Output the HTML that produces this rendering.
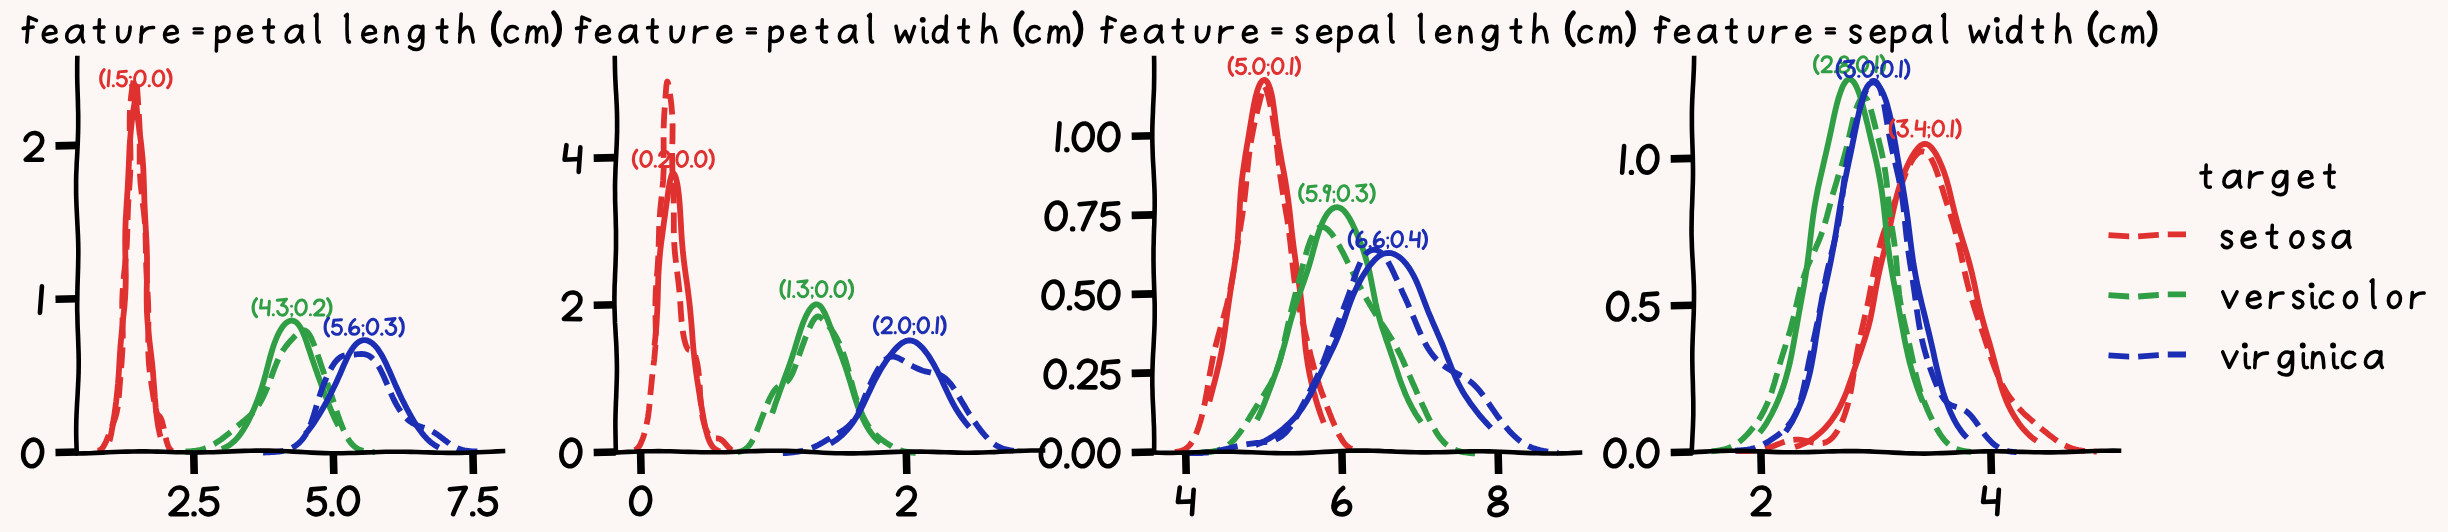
<!DOCTYPE html>
<html><head><meta charset="utf-8"><title>iris</title>
<style>html,body{margin:0;padding:0;background:#fcf6f4;overflow:hidden;font-family:"Liberation Sans",sans-serif}svg{display:block}</style>
</head><body>
<svg width="2448" height="532" viewBox="0 0 2448 532" role="img" aria-label="Iris feature distributions by target">
<desc>feature = petal length (cm); feature = petal width (cm); feature = sepal length (cm); feature = sepal width (cm); target: setosa, versicolor, virginica</desc>
<rect width="2448" height="532" fill="#fcf6f4"/>
<g fill="none" stroke-linecap="butt" stroke-linejoin="round">
<path d="M109.4,441.2 L109.9,439.7 L110.3,438.0 L110.7,436.1 L111.2,433.9 L111.6,431.5 L112.1,428.9 L112.6,425.9 L113.1,422.7 L113.7,419.1 L114.3,415.2 L114.9,411.0 L115.5,406.3 L116.2,401.3 L116.8,395.9 L117.4,390.0 L118.0,383.8 L118.5,377.0 L119.0,369.9 L119.4,362.3 L119.9,354.2 L120.5,345.8 L121.3,336.9 L122.2,327.6 L123.2,318.0 L124.3,308.0 L125.1,297.6 L125.6,287.0 L125.8,276.1 L125.6,264.9 L125.3,253.7 L125.2,242.3 L125.3,230.9 L125.7,219.5 L126.4,208.2 L127.1,197.0 L127.8,186.1 L128.3,175.5 L128.8,165.2 L129.2,155.3 L129.6,146.0 L130.3,137.2 L131.0,129.1 L131.8,121.7 L132.6,115.0 L133.5,109.1 L134.3,104.1 L135.0,100.1 L135.6,96.9 L136.2,94.8 L136.5,93.9 L135.3,94.2 L134.9,94.1 L135.3,95.5 L135.6,98.0 L136.0,101.5 L136.5,105.9 L137.0,111.3 L137.7,117.4 L138.6,124.3 L139.6,132.0 L140.7,140.4 L141.7,149.3 L142.6,158.8 L143.3,168.8 L143.7,179.2 L144.1,190.0 L144.4,201.0 L144.9,212.2 L145.5,223.6 L146.1,235.0 L146.7,246.4 L147.0,257.7 L147.0,268.9 L146.9,280.0 L146.7,290.8 L146.7,301.4 L146.9,311.6 L147.5,321.5 L148.4,331.1 L149.4,340.2 L150.4,348.9 L151.4,357.2 L152.3,365.0 L153.0,372.5 L153.5,379.5 L154.0,386.0 L154.5,392.2 L154.9,397.9 L155.4,403.2 L155.8,408.1 L156.3,412.6 L156.8,416.8 L157.3,420.5 L157.8,424.0 L158.3,427.1 L158.9,430.0 L159.4,432.5 L159.9,434.8 L160.5,436.9" stroke="#e03131" stroke-width="5.8"/>
<path d="M97.3,450.7 L97.6,450.7 L98.0,450.7 L98.3,450.6 L98.6,450.6 L99.0,450.5 L99.3,450.4 L99.6,450.3 L100.0,450.1 L100.3,449.9 L100.7,449.7 L101.0,449.4 L101.4,449.1 L101.8,448.7 L102.2,448.3 L102.6,447.7 L103.0,447.2 L103.4,446.5 L103.9,445.8 L104.3,445.0 L104.8,444.1 L105.2,443.2 L105.7,442.2 L106.2,441.2 L106.6,440.1 L107.1,439.0 L107.6,437.8 L108.0,436.6 L108.5,435.5 L108.9,434.3 L109.4,433.1 L109.8,431.9 L110.3,430.8 L110.7,429.7 L111.2,428.6 L111.6,427.5 L112.0,426.4 L112.4,425.4 L112.8,424.4 L113.2,423.4 L113.6,422.3 L114.0,421.3 L114.4,420.2 L114.8,419.1 L115.2,417.9 L115.6,416.6 L116.0,415.2 L116.4,413.7 L116.8,412.0 L117.1,410.2 L117.5,408.2 L117.8,406.1 L118.1,403.6 L118.4,401.0 L118.7,398.1 L119.0,394.8 L119.3,391.3 L119.6,387.5 L119.9,383.3 L120.3,378.7 L120.7,373.8 L121.1,368.5 L121.6,362.8 L122.0,356.6 L122.4,350.1 L122.7,343.2 L122.8,335.8 L122.7,328.1 L122.5,320.0 L122.3,311.5 L122.2,302.7 L122.5,293.7 L123.1,284.3 L124.0,274.7 L125.1,264.9 L126.0,254.9 L126.8,244.7 L127.2,234.5 L127.5,224.2 L127.8,213.8 L128.2,203.5 L128.9,193.3 L129.6,183.2 L130.2,173.3 L130.5,163.6 L130.5,154.2 L130.3,145.2 L130.0,136.5 L129.7,128.3 L129.7,120.6 L129.8,113.4 L130.2,106.9 L130.7,101.0 L131.2,95.7 L131.8,91.1 L132.3,87.3 L132.9,84.2 L133.3,81.8 L133.8,80.1 L134.4,79.0 L135.7,78.9 L136.2,79.9 L136.5,81.5 L136.8,83.8 L137.1,86.7 L137.3,90.4 L137.6,94.7 L137.9,99.7 L138.3,105.3 L138.7,111.4 L139.1,118.1 L139.5,125.3 L139.7,132.8 L139.8,140.8 L139.7,149.0 L139.7,157.5 L139.7,166.2 L140.0,175.1 L140.6,184.0 L141.6,192.9 L142.6,201.9 L143.7,210.8 L144.6,219.7 L145.3,228.5 L145.6,237.2 L145.8,245.8 L145.9,254.3 L146.1,262.7 L146.4,270.9 L146.8,279.0 L147.2,286.9 L147.7,294.8 L148.1,302.4 L148.3,310.0 L148.4,317.5 L148.4,324.8 L148.3,331.9 L148.2,338.9 L148.2,345.7 L148.3,352.3 L148.6,358.6 L149.0,364.7 L149.6,370.5 L150.3,376.0 L151.0,381.2 L151.7,386.0 L152.4,390.5 L153.0,394.5 L153.6,398.2 L154.2,401.4 L154.7,404.2 L155.1,406.7 L155.6,408.7 L156.0,410.4 L156.4,411.8 L156.8,412.9 L157.1,413.7 L157.5,414.3 L157.8,414.8 L158.1,415.1 L158.5,415.4 L158.9,415.7 L159.3,416.1 L159.7,416.6 L160.1,417.1 L160.5,417.8 L160.9,418.5 L161.3,419.5 L161.7,420.5 L162.1,421.7 L162.5,423.0 L162.8,424.4 L163.2,425.9 L163.6,427.6 L163.9,429.2 L164.3,430.9 L164.6,432.6 L165.0,434.3 L165.3,436.0 L165.7,437.6 L166.1,439.1 L166.4,440.6 L166.8,441.9 L167.2,443.2 L167.6,444.3 L167.9,445.4 L168.3,446.3 L168.7,447.1 L169.1,447.8 L169.4,448.5 L169.8,449.0 L170.1,449.4 L170.5,449.8 L170.8,450.1 L171.2,450.4 L171.5,450.6 L171.9,450.7 L172.2,450.9 L172.6,451.0 L172.9,451.1" stroke="#e03131" stroke-width="5.8" stroke-dasharray="20.7 9"/>
<path d="M221.8,449.0 L223.0,448.5 L224.2,448.0 L225.4,447.5 L226.6,446.8 L227.8,446.1 L229.0,445.4 L230.2,444.5 L231.4,443.6 L232.6,442.6 L233.8,441.6 L235.0,440.4 L236.2,439.2 L237.4,437.8 L238.6,436.4 L239.8,434.8 L241.0,433.2 L242.2,431.4 L243.4,429.6 L244.6,427.6 L245.8,425.5 L247.0,423.3 L248.3,421.0 L249.5,418.6 L250.7,416.0 L252.0,413.3 L253.2,410.6 L254.5,407.7 L255.7,404.7 L256.9,401.6 L258.1,398.4 L259.3,395.1 L260.4,391.8 L261.6,388.3 L262.6,384.8 L263.7,381.2 L264.7,377.6 L265.7,374.0 L266.6,370.4 L267.6,366.7 L268.5,363.1 L269.4,359.6 L270.4,356.1 L271.4,352.6 L272.4,349.3 L273.4,346.1 L274.5,343.0 L275.7,340.0 L276.8,337.2 L278.0,334.6 L279.2,332.2 L280.5,330.0 L281.7,328.0 L283.0,326.2 L284.4,324.6 L285.7,323.3 L287.1,322.2 L288.5,321.4 L289.9,320.8 L291.4,320.6 L292.8,320.7 L294.2,321.1 L295.6,321.9 L296.8,322.8 L298.0,324.1 L299.1,325.5 L300.2,327.2 L301.3,329.1 L302.3,331.2 L303.3,333.5 L304.4,336.0 L305.4,338.7 L306.4,341.5 L307.4,344.5 L308.4,347.6 L309.5,350.8 L310.6,354.1 L311.7,357.5 L312.9,360.9 L314.1,364.4 L315.3,367.9 L316.6,371.4 L317.8,375.0 L319.1,378.5 L320.4,382.0 L321.6,385.5 L322.9,388.9 L324.2,392.3 L325.4,395.6 L326.6,398.9 L327.8,402.0 L329.0,405.1 L330.2,408.1 L331.4,411.0 L332.6,413.7 L333.8,416.4 L334.9,418.9 L336.1,421.4 L337.3,423.7 L338.5,425.9" stroke="#2f9e44" stroke-width="5.8"/>
<path d="M185.6,451.6 L186.6,451.5 L187.5,451.5 L188.5,451.4 L189.4,451.4 L190.4,451.3 L191.3,451.2 L192.2,451.1 L193.2,451.0 L194.1,450.9 L195.1,450.8 L196.0,450.7 L196.9,450.5 L197.9,450.4 L198.8,450.2 L199.7,450.0 L200.7,449.8 L201.6,449.5 L202.5,449.3 L203.4,449.0 L204.3,448.7 L205.3,448.3 L206.2,448.0 L207.1,447.6 L208.0,447.2 L208.9,446.8 L209.8,446.4 L210.7,445.9 L211.6,445.4 L212.6,444.9 L213.5,444.4 L214.4,443.9 L215.3,443.3 L216.2,442.7 L217.1,442.1 L218.1,441.5 L219.0,440.9 L219.9,440.3 L220.8,439.7 L221.8,439.0 L222.7,438.3 L223.6,437.6 L224.5,436.9 L225.5,436.2 L226.4,435.4 L227.4,434.7 L228.3,433.9 L229.3,433.1 L230.2,432.3 L231.2,431.5 L232.1,430.7 L233.1,429.9 L234.1,429.0 L235.1,428.2 L236.1,427.3 L237.0,426.5 L238.0,425.7 L239.0,424.8 L240.0,424.0 L241.0,423.2 L242.0,422.3 L243.0,421.5 L244.0,420.7 L245.0,419.9 L246.0,419.0 L247.0,418.2 L248.0,417.3 L249.0,416.4 L250.1,415.5 L251.1,414.5 L252.1,413.5 L253.1,412.4 L254.2,411.2 L255.2,409.9 L256.2,408.6 L257.3,407.1 L258.3,405.5 L259.4,403.9 L260.4,402.1 L261.5,400.2 L262.5,398.2 L263.6,396.1 L264.6,393.9 L265.6,391.6 L266.6,389.2 L267.6,386.8 L268.6,384.3 L269.5,381.8 L270.5,379.2 L271.4,376.7 L272.3,374.2 L273.2,371.7 L274.1,369.3 L275.0,367.0 L275.9,364.7 L276.8,362.5 L277.7,360.5 L278.6,358.5 L279.5,356.6 L280.4,354.9 L281.3,353.2 L282.2,351.7 L283.1,350.2 L284.1,348.9 L285.0,347.6 L285.9,346.3 L286.9,345.2 L287.8,344.0 L288.7,342.9 L289.7,341.8 L290.6,340.8 L291.6,339.7 L292.6,338.7 L293.5,337.6 L294.5,336.6 L295.4,335.6 L296.4,334.7 L297.3,333.8 L298.3,333.0 L299.2,332.2 L300.1,331.6 L301.0,331.1 L301.9,330.7 L302.8,330.4 L303.6,330.3 L304.4,330.4 L305.2,330.6 L306.0,331.0 L306.8,331.7 L307.7,332.5 L308.6,333.6 L309.5,334.9 L310.4,336.5 L311.3,338.2 L312.2,340.3 L313.1,342.5 L314.1,344.9 L315.1,347.5 L316.0,350.2 L317.1,353.1 L318.1,356.1 L319.2,359.3 L320.3,362.5 L321.4,365.8 L322.5,369.1 L323.7,372.5 L324.8,375.9 L326.0,379.3 L327.2,382.7 L328.3,386.1 L329.5,389.4 L330.6,392.7 L331.7,396.0 L332.7,399.1 L333.7,402.2 L334.7,405.3 L335.7,408.2 L336.6,411.1 L337.5,413.8 L338.4,416.5 L339.3,419.0 L340.2,421.5 L341.1,423.8 L341.9,426.1 L342.8,428.2 L343.6,430.2 L344.5,432.1 L345.3,433.9 L346.2,435.6 L347.0,437.2 L347.9,438.6 L348.8,440.0 L349.7,441.3 L350.5,442.5 L351.4,443.5 L352.3,444.5 L353.2,445.4 L354.1,446.2 L355.1,447.0 L356.0,447.7 L356.9,448.3 L357.8,448.8 L358.8,449.3 L359.7,449.7 L360.6,450.1 L361.6,450.4 L362.5,450.7 L363.5,450.9 L364.4,451.1 L365.4,451.3 L366.3,451.5 L367.3,451.6 L368.2,451.7 L369.2,451.8 L370.1,451.9 L371.1,451.9 L372.0,452.0 L373.0,452.0 L373.9,452.1 L374.9,452.1" stroke="#2f9e44" stroke-width="5.8" stroke-dasharray="20.7 9"/>
<path d="M305.3,434.0 L306.7,432.4 L308.1,430.8 L309.4,429.0 L310.8,427.2 L312.2,425.3 L313.6,423.3 L315.0,421.2 L316.4,419.0 L317.8,416.8 L319.3,414.4 L320.7,412.0 L322.2,409.5 L323.7,406.9 L325.2,404.3 L326.7,401.6 L328.1,398.8 L329.6,396.0 L331.1,393.1 L332.5,390.2 L333.9,387.3 L335.3,384.4 L336.7,381.4 L338.0,378.5 L339.3,375.6 L340.6,372.7 L341.8,369.8 L343.0,367.0 L344.2,364.3 L345.4,361.7 L346.6,359.1 L347.7,356.7 L348.9,354.4 L350.1,352.2 L351.3,350.2 L352.6,348.3 L353.8,346.6 L355.1,345.1 L356.4,343.8 L357.8,342.6 L359.1,341.7 L360.6,340.9 L362.0,340.4 L363.5,340.2 L365.0,340.1 L366.6,340.3 L368.1,340.8 L369.6,341.5 L371.1,342.4 L372.6,343.5 L374.0,344.8 L375.5,346.3 L376.9,347.9 L378.3,349.8 L379.6,351.8 L381.0,354.0 L382.3,356.3 L383.6,358.7 L384.9,361.3 L386.2,363.9 L387.4,366.7 L388.7,369.5 L390.0,372.3 L391.2,375.2 L392.5,378.2 L393.8,381.2 L395.1,384.1 L396.4,387.1 L397.8,390.1 L399.1,393.0 L400.5,395.9 L401.8,398.7 L403.2,401.5 L404.6,404.2 L405.9,406.9 L407.3,409.5 L408.7,412.0 L410.0,414.5 L411.4,416.9 L412.7,419.2 L414.0,421.4 L415.3,423.5 L416.6,425.5 L417.9,427.5 L419.2,429.3 L420.5,431.1 L421.8,432.8 L423.1,434.4 L424.3,435.9 L425.6,437.3 L426.9,438.7 L428.2,440.0 L429.5,441.2 L430.8,442.3 L432.2,443.3 L433.5,444.3 L434.8,445.2 L436.2,446.0 L437.5,446.8 L438.9,447.5" stroke="#1c2fb4" stroke-width="5.8"/>
<path d="M263.1,452.5 L264.2,452.5 L265.3,452.4 L266.4,452.4 L267.5,452.3 L268.6,452.3 L269.7,452.3 L270.8,452.2 L271.9,452.2 L273.0,452.1 L274.1,452.0 L275.2,451.9 L276.3,451.8 L277.4,451.7 L278.5,451.6 L279.7,451.5 L280.8,451.3 L281.9,451.1 L283.0,450.9 L284.1,450.6 L285.2,450.4 L286.4,450.1 L287.5,449.7 L288.6,449.3 L289.7,448.9 L290.9,448.4 L292.0,447.9 L293.1,447.3 L294.3,446.6 L295.4,445.8 L296.6,445.0 L297.7,444.1 L298.8,443.2 L299.9,442.1 L301.0,440.9 L302.2,439.6 L303.2,438.2 L304.3,436.7 L305.4,435.1 L306.4,433.3 L307.5,431.4 L308.5,429.4 L309.4,427.2 L310.4,424.9 L311.3,422.4 L312.2,419.8 L313.1,417.1 L314.0,414.3 L314.9,411.3 L315.8,408.3 L316.7,405.2 L317.7,402.1 L318.7,398.9 L319.7,395.7 L320.7,392.5 L321.9,389.3 L323.0,386.2 L324.2,383.2 L325.4,380.2 L326.6,377.4 L327.9,374.7 L329.1,372.2 L330.4,369.8 L331.6,367.6 L332.8,365.6 L334.0,363.7 L335.2,362.1 L336.4,360.7 L337.5,359.5 L338.7,358.4 L339.8,357.5 L341.0,356.8 L342.1,356.2 L343.2,355.8 L344.3,355.5 L345.5,355.2 L346.6,355.1 L347.7,354.9 L348.8,354.9 L349.9,354.8 L351.0,354.7 L352.1,354.7 L353.2,354.6 L354.3,354.5 L355.4,354.4 L356.5,354.3 L357.6,354.2 L358.6,354.1 L359.8,354.1 L360.9,354.0 L362.0,354.0 L363.1,354.1 L364.2,354.2 L365.3,354.4 L366.4,354.7 L367.5,355.1 L368.7,355.6 L369.8,356.3 L370.9,357.1 L372.0,358.0 L373.1,359.1 L374.3,360.3 L375.4,361.7 L376.4,363.1 L377.5,364.7 L378.6,366.4 L379.6,368.2 L380.7,370.2 L381.7,372.2 L382.7,374.2 L383.7,376.4 L384.7,378.6 L385.6,380.8 L386.6,383.0 L387.5,385.3 L388.5,387.6 L389.5,389.9 L390.4,392.1 L391.4,394.4 L392.4,396.6 L393.4,398.7 L394.5,400.9 L395.5,402.9 L396.6,404.9 L397.7,406.8 L398.8,408.6 L400.0,410.4 L401.1,412.0 L402.3,413.6 L403.5,415.1 L404.6,416.4 L405.8,417.7 L407.0,418.9 L408.2,420.0 L409.4,421.0 L410.6,421.8 L411.8,422.7 L413.0,423.4 L414.2,424.0 L415.4,424.6 L416.5,425.1 L417.7,425.6 L418.8,426.0 L420.0,426.4 L421.1,426.8 L422.2,427.2 L423.3,427.5 L424.5,427.9 L425.6,428.3 L426.7,428.8 L427.8,429.2 L429.0,429.7 L430.1,430.2 L431.2,430.8 L432.3,431.4 L433.5,432.1 L434.6,432.7 L435.7,433.5 L436.9,434.2 L438.0,435.0 L439.1,435.8 L440.2,436.7 L441.3,437.5 L442.4,438.4 L443.5,439.2 L444.6,440.1 L445.7,440.9 L446.8,441.7 L447.9,442.6 L449.0,443.3 L450.0,444.1 L451.1,444.8 L452.2,445.5 L453.3,446.1 L454.4,446.7 L455.4,447.3 L456.5,447.8 L457.6,448.3 L458.7,448.7 L459.8,449.1 L460.9,449.4 L462.0,449.8 L463.1,450.0 L464.1,450.3 L465.2,450.5 L466.3,450.7 L467.4,450.9 L468.5,451.0 L469.6,451.1 L470.7,451.2 L471.8,451.3 L472.9,451.4 L474.0,451.4 L475.1,451.4 L476.2,451.4 L477.3,451.4 L478.4,451.4 L479.5,451.4 L480.6,451.4 L481.7,451.4" stroke="#1c2fb4" stroke-width="5.8" stroke-dasharray="20.7 9"/>
</g>
<g fill="none" stroke="#000" stroke-linecap="square" stroke-linejoin="round">
<path d="M76.7,452.0 L76.5,445.8 L76.3,439.7 L76.2,433.5 L76.2,427.4 L76.3,421.2 L76.5,415.1 L76.8,408.9 L77.1,402.8 L77.5,396.6 L77.8,390.4 L78.1,384.3 L78.4,378.1 L78.6,372.0 L78.7,365.8 L78.7,359.7 L78.6,353.5 L78.4,347.3 L78.2,341.2 L78.0,335.0 L77.7,328.9 L77.5,322.7 L77.4,316.6 L77.2,310.4 L77.2,304.2 L77.3,298.1 L77.4,291.9 L77.5,285.8 L77.7,279.6 L77.9,273.5 L78.1,267.3 L78.2,261.2 L78.3,255.0 L78.3,248.8 L78.2,242.7 L78.0,236.5 L77.7,230.4 L77.4,224.2 L77.1,218.1 L76.8,211.9 L76.5,205.8 L76.3,199.6 L76.1,193.4 L76.1,187.3 L76.1,181.1 L76.2,175.0 L76.5,168.8 L76.7,162.7 L77.1,156.5 L77.4,150.3 L77.7,144.2 L77.9,138.0 L78.1,131.9 L78.2,125.7 L78.2,119.6 L78.2,113.4 L78.0,107.2 L77.9,101.1 L77.7,94.9 L77.5,88.8 L77.3,82.6 L77.2,76.5 L77.2,70.3 L77.2,64.2 L77.3,58.0" stroke-width="4.6"/>
<path d="M77.5,453.5 L83.7,453.4 L89.8,453.2 L96.0,452.9 L102.2,452.6 L108.3,452.3 L114.5,452.0 L120.7,451.8 L126.8,451.6 L133.0,451.5 L139.2,451.4 L145.3,451.4 L151.5,451.5 L157.7,451.6 L163.8,451.8 L170.0,452.0 L176.2,452.2 L182.3,452.3 L188.5,452.4 L194.7,452.5 L200.8,452.4 L207.0,452.3 L213.2,452.2 L219.3,451.9 L225.5,451.7 L231.7,451.4 L237.8,451.1 L244.0,450.9 L250.2,450.7 L256.3,450.6 L262.5,450.6 L268.7,450.6 L274.8,450.7 L281.0,451.0 L287.2,451.3 L293.3,451.6 L299.5,451.9 L305.7,452.3 L311.8,452.6 L318.0,452.9 L324.2,453.1 L330.3,453.2 L336.5,453.2 L342.7,453.2 L348.8,453.0 L355.0,452.9 L361.2,452.6 L367.3,452.4 L373.5,452.2 L379.7,452.0 L385.8,451.8 L392.0,451.7 L398.2,451.7 L404.3,451.8 L410.5,451.9 L416.7,452.0 L422.8,452.2 L429.0,452.4 L435.2,452.6 L441.3,452.8 L447.5,452.9 L453.7,452.9 L459.8,452.9 L466.0,452.8 L472.2,452.6 L478.3,452.3 L484.5,452.0 L490.7,451.7 L496.8,451.4 L503.0,451.1" stroke-width="4.6"/>
<path d="M193.7,452.0 L194.2,474.0" stroke-width="7.6" stroke-linecap="butt"/>
<path d="M333.3,452.0 L333.8,474.0" stroke-width="7.6" stroke-linecap="butt"/>
<path d="M472.9,452.0 L473.4,474.0" stroke-width="7.6" stroke-linecap="butt"/>
<path d="M77.5,452.0 L55.5,452.5" stroke-width="7.6" stroke-linecap="butt"/>
<path d="M77.5,298.7 L55.5,299.2" stroke-width="7.6" stroke-linecap="butt"/>
<path d="M77.5,145.4 L55.5,145.9" stroke-width="7.6" stroke-linecap="butt"/>
</g>
<g transform="translate(167.8,516.5) scale(0.1185)"><path d="M22,-186 C34,-226 70,-247 106,-244 C141,-240 164,-214 163,-181 C162,-150 144,-126 120,-104 L24,-20 L162,-19" fill="none" stroke="#000" stroke-width="39.0" stroke-linecap="round" stroke-linejoin="round"/></g><g transform="translate(191.3,516.5) scale(0.1185)"><circle cx="23" cy="-22" r="23.0" fill="#000"/></g><g transform="translate(198.6,516.5) scale(0.1185)"><path d="M156,-238 L41,-229 L26,-138 C60,-160 106,-165 135,-140 C165,-114 164,-60 130,-32 C96,-7 42,-17 20,-54" fill="none" stroke="#000" stroke-width="39.0" stroke-linecap="round" stroke-linejoin="round"/></g>
<g transform="translate(306.3,516.5) scale(0.1185)"><path d="M156,-238 L41,-229 L26,-138 C60,-160 106,-165 135,-140 C165,-114 164,-60 130,-32 C96,-7 42,-17 20,-54" fill="none" stroke="#000" stroke-width="39.0" stroke-linecap="round" stroke-linejoin="round"/></g><g transform="translate(329.2,516.5) scale(0.1185)"><circle cx="23" cy="-22" r="23.0" fill="#000"/></g><g transform="translate(336.6,516.5) scale(0.1185)"><ellipse cx="100" cy="-132" rx="79" ry="113" transform="rotate(9 100 -132)" fill="none" stroke="#000" stroke-width="39.0"/></g>
<g transform="translate(447.5,516.5) scale(0.1185)"><path d="M20,-230 L154,-242 C118,-180 76,-92 48,-20" fill="none" stroke="#000" stroke-width="39.0" stroke-linecap="round" stroke-linejoin="round"/></g><g transform="translate(470.0,516.5) scale(0.1185)"><circle cx="23" cy="-22" r="23.0" fill="#000"/></g><g transform="translate(477.3,516.5) scale(0.1185)"><path d="M156,-238 L41,-229 L26,-138 C60,-160 106,-165 135,-140 C165,-114 164,-60 130,-32 C96,-7 42,-17 20,-54" fill="none" stroke="#000" stroke-width="39.0" stroke-linecap="round" stroke-linejoin="round"/></g>
<g transform="translate(20.8,468.6) scale(0.1185)"><ellipse cx="100" cy="-132" rx="79" ry="113" transform="rotate(9 100 -132)" fill="none" stroke="#000" stroke-width="39.0"/></g>
<g transform="translate(37.2,315.3) scale(0.1185)"><path d="M40,-245 L23,-20" fill="none" stroke="#000" stroke-width="39.0" stroke-linecap="round" stroke-linejoin="round"/></g>
<g transform="translate(22.9,162.0) scale(0.1185)"><path d="M22,-186 C34,-226 70,-247 106,-244 C141,-240 164,-214 163,-181 C162,-150 144,-126 120,-104 L24,-20 L162,-19" fill="none" stroke="#000" stroke-width="39.0" stroke-linecap="round" stroke-linejoin="round"/></g>
<g transform="translate(98.9,87.2) scale(0.0669)"><path d="M78,-262 C10,-190 10,-62 78,5" fill="none" stroke="#e03131" stroke-width="47.0" stroke-linecap="round" stroke-linejoin="round"/></g><g transform="translate(106.6,87.2) scale(0.0669)"><path d="M40,-245 L23,-20" fill="none" stroke="#e03131" stroke-width="43.7" stroke-linecap="round" stroke-linejoin="round"/></g><g transform="translate(111.8,87.2) scale(0.0669)"><circle cx="23" cy="-22" r="23.0" fill="#e03131"/></g><g transform="translate(116.0,87.2) scale(0.0669)"><path d="M156,-238 L41,-229 L26,-138 C60,-160 106,-165 135,-140 C165,-114 164,-60 130,-32 C96,-7 42,-17 20,-54" fill="none" stroke="#e03131" stroke-width="43.7" stroke-linecap="round" stroke-linejoin="round"/></g><g transform="translate(128.9,87.2) scale(0.0669)"><path d="M26,-28 C30,-16 28,-6 22,2" fill="none" stroke="#e03131" stroke-width="26.9" stroke-linecap="round" stroke-linejoin="round"/><circle cx="22" cy="-150" r="21.0" fill="#e03131"/><circle cx="25" cy="-30" r="21.0" fill="#e03131"/></g><g transform="translate(133.2,87.2) scale(0.0669)"><ellipse cx="100" cy="-132" rx="79" ry="113" transform="rotate(9 100 -132)" fill="none" stroke="#e03131" stroke-width="43.7"/></g><g transform="translate(147.7,87.2) scale(0.0669)"><circle cx="23" cy="-22" r="23.0" fill="#e03131"/></g><g transform="translate(151.8,87.2) scale(0.0669)"><ellipse cx="100" cy="-132" rx="79" ry="113" transform="rotate(9 100 -132)" fill="none" stroke="#e03131" stroke-width="43.7"/></g><g transform="translate(166.3,87.2) scale(0.0669)"><path d="M20,-262 C86,-190 86,-62 20,5" fill="none" stroke="#e03131" stroke-width="47.0" stroke-linecap="round" stroke-linejoin="round"/></g>
<g transform="translate(251.3,316.3) scale(0.0669)"><path d="M78,-262 C10,-190 10,-62 78,5" fill="none" stroke="#2f9e44" stroke-width="47.0" stroke-linecap="round" stroke-linejoin="round"/></g><g transform="translate(259.1,316.3) scale(0.0669)"><path d="M37,-245 L21,-122 L142,-128" fill="none" stroke="#2f9e44" stroke-width="43.7" stroke-linecap="round" stroke-linejoin="round"/><path d="M154,-226 L140,-20" fill="none" stroke="#2f9e44" stroke-width="43.7" stroke-linecap="round" stroke-linejoin="round"/></g><g transform="translate(271.8,316.3) scale(0.0669)"><circle cx="23" cy="-22" r="23.0" fill="#2f9e44"/></g><g transform="translate(275.9,316.3) scale(0.0669)"><path d="M20,-240 L160,-256 L84,-166 C132,-170 176,-132 171,-86 C166,-36 122,-12 86,-17 C56,-22 36,-46 26,-72" fill="none" stroke="#2f9e44" stroke-width="43.7" stroke-linecap="round" stroke-linejoin="round"/></g><g transform="translate(290.1,316.3) scale(0.0669)"><path d="M26,-28 C30,-16 28,-6 22,2" fill="none" stroke="#2f9e44" stroke-width="26.9" stroke-linecap="round" stroke-linejoin="round"/><circle cx="22" cy="-150" r="21.0" fill="#2f9e44"/><circle cx="25" cy="-30" r="21.0" fill="#2f9e44"/></g><g transform="translate(294.4,316.3) scale(0.0669)"><ellipse cx="100" cy="-132" rx="79" ry="113" transform="rotate(9 100 -132)" fill="none" stroke="#2f9e44" stroke-width="43.7"/></g><g transform="translate(308.9,316.3) scale(0.0669)"><circle cx="23" cy="-22" r="23.0" fill="#2f9e44"/></g><g transform="translate(313.0,316.3) scale(0.0669)"><path d="M22,-186 C34,-226 70,-247 106,-244 C141,-240 164,-214 163,-181 C162,-150 144,-126 120,-104 L24,-20 L162,-19" fill="none" stroke="#2f9e44" stroke-width="43.7" stroke-linecap="round" stroke-linejoin="round"/></g><g transform="translate(326.3,316.3) scale(0.0669)"><path d="M20,-262 C86,-190 86,-62 20,5" fill="none" stroke="#2f9e44" stroke-width="47.0" stroke-linecap="round" stroke-linejoin="round"/></g>
<g transform="translate(323.3,335.6) scale(0.0669)"><path d="M78,-262 C10,-190 10,-62 78,5" fill="none" stroke="#1c2fb4" stroke-width="47.0" stroke-linecap="round" stroke-linejoin="round"/></g><g transform="translate(331.1,335.6) scale(0.0669)"><path d="M156,-238 L41,-229 L26,-138 C60,-160 106,-165 135,-140 C165,-114 164,-60 130,-32 C96,-7 42,-17 20,-54" fill="none" stroke="#1c2fb4" stroke-width="43.7" stroke-linecap="round" stroke-linejoin="round"/></g><g transform="translate(344.0,335.6) scale(0.0669)"><circle cx="23" cy="-22" r="23.0" fill="#1c2fb4"/></g><g transform="translate(348.1,335.6) scale(0.0669)"><path d="M102,-240 C60,-212 26,-150 21,-92 C18,-42 50,-18 94,-18 C140,-20 165,-52 160,-90 C155,-124 120,-135 90,-125 C62,-115 38,-92 32,-62" fill="none" stroke="#1c2fb4" stroke-width="43.7" stroke-linecap="round" stroke-linejoin="round"/></g><g transform="translate(361.5,335.6) scale(0.0669)"><path d="M26,-28 C30,-16 28,-6 22,2" fill="none" stroke="#1c2fb4" stroke-width="26.9" stroke-linecap="round" stroke-linejoin="round"/><circle cx="22" cy="-150" r="21.0" fill="#1c2fb4"/><circle cx="25" cy="-30" r="21.0" fill="#1c2fb4"/></g><g transform="translate(365.8,335.6) scale(0.0669)"><ellipse cx="100" cy="-132" rx="79" ry="113" transform="rotate(9 100 -132)" fill="none" stroke="#1c2fb4" stroke-width="43.7"/></g><g transform="translate(380.3,335.6) scale(0.0669)"><circle cx="23" cy="-22" r="23.0" fill="#1c2fb4"/></g><g transform="translate(384.4,335.6) scale(0.0669)"><path d="M20,-240 L160,-256 L84,-166 C132,-170 176,-132 171,-86 C166,-36 122,-12 86,-17 C56,-22 36,-46 26,-72" fill="none" stroke="#1c2fb4" stroke-width="43.7" stroke-linecap="round" stroke-linejoin="round"/></g><g transform="translate(398.6,335.6) scale(0.0669)"><path d="M20,-262 C86,-190 86,-62 20,5" fill="none" stroke="#1c2fb4" stroke-width="47.0" stroke-linecap="round" stroke-linejoin="round"/></g>
<g transform="translate(21.3,43.9) scale(0.1185)"><path d="M128,-198 L62,-226 C56,-150 52,-80 46,-16" fill="none" stroke="#000" stroke-width="30.0" stroke-linecap="round" stroke-linejoin="round"/><path d="M16,-131 L100,-143" fill="none" stroke="#000" stroke-width="30.0" stroke-linecap="round" stroke-linejoin="round"/></g><g transform="translate(41.0,43.9) scale(0.1185)"><path d="M20,-76 L126,-97 C124,-138 98,-150 74,-146 C40,-140 19,-105 19,-72 C19,-40 42,-17 76,-17 C100,-17 120,-27 130,-40" fill="none" stroke="#000" stroke-width="30.0" stroke-linecap="round" stroke-linejoin="round"/></g><g transform="translate(64.7,43.9) scale(0.1185)"><path d="M146,-126 C130,-150 104,-153 86,-148 C48,-138 17,-100 17,-63 C17,-33 36,-17 60,-17 C100,-17 134,-70 146,-120" fill="none" stroke="#000" stroke-width="30.0" stroke-linecap="round" stroke-linejoin="round"/><path d="M148,-150 C146,-100 138,-38 160,-17" fill="none" stroke="#000" stroke-width="30.0" stroke-linecap="round" stroke-linejoin="round"/></g><g transform="translate(92.6,43.9) scale(0.1185)"><path d="M58,-203 C55,-120 51,-80 54,-42 C56,-20 74,-14 93,-17" fill="none" stroke="#000" stroke-width="30.0" stroke-linecap="round" stroke-linejoin="round"/><path d="M14,-136 L96,-142" fill="none" stroke="#000" stroke-width="30.0" stroke-linecap="round" stroke-linejoin="round"/></g><g transform="translate(115.7,43.9) scale(0.1185)"><path d="M18,-143 C16,-90 17,-52 25,-36 C36,-14 70,-10 94,-40 C116,-70 121,-110 122,-143" fill="none" stroke="#000" stroke-width="30.0" stroke-linecap="round" stroke-linejoin="round"/></g><g transform="translate(139.4,43.9) scale(0.1185)"><path d="M21,-143 L12,-16" fill="none" stroke="#000" stroke-width="30.0" stroke-linecap="round" stroke-linejoin="round"/><path d="M16,-82 C35,-120 62,-142 120,-138" fill="none" stroke="#000" stroke-width="30.0" stroke-linecap="round" stroke-linejoin="round"/></g><g transform="translate(162.3,43.9) scale(0.1185)"><path d="M20,-76 L126,-97 C124,-138 98,-150 74,-146 C40,-140 19,-105 19,-72 C19,-40 42,-17 76,-17 C100,-17 120,-27 130,-40" fill="none" stroke="#000" stroke-width="30.0" stroke-linecap="round" stroke-linejoin="round"/></g><g transform="translate(192.5,43.9) scale(0.1185)"><path d="M13,-128 H82" fill="none" stroke="#000" stroke-width="27.0" stroke-linecap="round" stroke-linejoin="round"/><path d="M13,-93 H82" fill="none" stroke="#000" stroke-width="27.0" stroke-linecap="round" stroke-linejoin="round"/></g><g transform="translate(214.7,43.9) scale(0.1185)"><path d="M20,-138 L14,60" fill="none" stroke="#000" stroke-width="30.0" stroke-linecap="round" stroke-linejoin="round"/><path d="M19,-108 C40,-140 76,-152 100,-136 C130,-115 126,-60 96,-35 C70,-17 40,-19 18,-30" fill="none" stroke="#000" stroke-width="30.0" stroke-linecap="round" stroke-linejoin="round"/></g><g transform="translate(236.3,43.9) scale(0.1185)"><path d="M20,-76 L126,-97 C124,-138 98,-150 74,-146 C40,-140 19,-105 19,-72 C19,-40 42,-17 76,-17 C100,-17 120,-27 130,-40" fill="none" stroke="#000" stroke-width="30.0" stroke-linecap="round" stroke-linejoin="round"/></g><g transform="translate(262.1,43.9) scale(0.1185)"><path d="M58,-203 C55,-120 51,-80 54,-42 C56,-20 74,-14 93,-17" fill="none" stroke="#000" stroke-width="30.0" stroke-linecap="round" stroke-linejoin="round"/><path d="M14,-136 L96,-142" fill="none" stroke="#000" stroke-width="30.0" stroke-linecap="round" stroke-linejoin="round"/></g><g transform="translate(284.1,43.9) scale(0.1185)"><path d="M146,-126 C130,-150 104,-153 86,-148 C48,-138 17,-100 17,-63 C17,-33 36,-17 60,-17 C100,-17 134,-70 146,-120" fill="none" stroke="#000" stroke-width="30.0" stroke-linecap="round" stroke-linejoin="round"/><path d="M148,-150 C146,-100 138,-38 160,-17" fill="none" stroke="#000" stroke-width="30.0" stroke-linecap="round" stroke-linejoin="round"/></g><g transform="translate(313.7,43.9) scale(0.1185)"><path d="M13,-237 L28,-249 C25,-150 27,-72 30,-42 C33,-22 40,-16 47,-17" fill="none" stroke="#000" stroke-width="30.0" stroke-linecap="round" stroke-linejoin="round"/></g><g transform="translate(343.9,43.9) scale(0.1185)"><path d="M13,-237 L28,-249 C25,-150 27,-72 30,-42 C33,-22 40,-16 47,-17" fill="none" stroke="#000" stroke-width="30.0" stroke-linecap="round" stroke-linejoin="round"/></g><g transform="translate(360.5,43.9) scale(0.1185)"><path d="M20,-76 L126,-97 C124,-138 98,-150 74,-146 C40,-140 19,-105 19,-72 C19,-40 42,-17 76,-17 C100,-17 120,-27 130,-40" fill="none" stroke="#000" stroke-width="30.0" stroke-linecap="round" stroke-linejoin="round"/></g><g transform="translate(384.2,43.9) scale(0.1185)"><path d="M20,-143 L13,-16" fill="none" stroke="#000" stroke-width="30.0" stroke-linecap="round" stroke-linejoin="round"/><path d="M16,-88 C35,-128 60,-147 80,-140 C104,-131 107,-90 111,-16" fill="none" stroke="#000" stroke-width="30.0" stroke-linecap="round" stroke-linejoin="round"/></g><g transform="translate(407.3,43.9) scale(0.1185)"><path d="M128,-126 C110,-148 86,-151 66,-145 C36,-135 18,-100 18,-70 C18,-40 35,-22 58,-22 C90,-22 118,-70 128,-118" fill="none" stroke="#000" stroke-width="30.0" stroke-linecap="round" stroke-linejoin="round"/><path d="M131,-148 C130,-80 136,-20 124,18 C112,54 58,56 19,26" fill="none" stroke="#000" stroke-width="30.0" stroke-linecap="round" stroke-linejoin="round"/></g><g transform="translate(435.5,43.9) scale(0.1185)"><path d="M58,-203 C55,-120 51,-80 54,-42 C56,-20 74,-14 93,-17" fill="none" stroke="#000" stroke-width="30.0" stroke-linecap="round" stroke-linejoin="round"/><path d="M14,-136 L96,-142" fill="none" stroke="#000" stroke-width="30.0" stroke-linecap="round" stroke-linejoin="round"/></g><g transform="translate(458.0,43.9) scale(0.1185)"><path d="M27,-253 L14,-16" fill="none" stroke="#000" stroke-width="30.0" stroke-linecap="round" stroke-linejoin="round"/><path d="M17,-86 C40,-128 70,-148 90,-140 C113,-130 118,-80 128,-16" fill="none" stroke="#000" stroke-width="30.0" stroke-linecap="round" stroke-linejoin="round"/></g><g transform="translate(490.2,43.9) scale(0.1185)"><path d="M78,-262 C10,-190 10,-62 78,5" fill="none" stroke="#000" stroke-width="42.0" stroke-linecap="round" stroke-linejoin="round"/></g><g transform="translate(502.7,43.9) scale(0.1185)"><path d="M122,-132 C100,-150 70,-151 50,-136 C20,-112 9,-60 34,-31 C58,-5 100,-18 124,-42" fill="none" stroke="#000" stroke-width="30.0" stroke-linecap="round" stroke-linejoin="round"/></g><g transform="translate(525.2,43.9) scale(0.1185)"><path d="M30,-143 L13,-16" fill="none" stroke="#000" stroke-width="30.0" stroke-linecap="round" stroke-linejoin="round"/><path d="M18,-80 C35,-124 60,-148 80,-140 C100,-130 98,-80 93,-16" fill="none" stroke="#000" stroke-width="30.0" stroke-linecap="round" stroke-linejoin="round"/><path d="M97,-90 C115,-130 140,-148 160,-140 C181,-130 182,-70 181,-16" fill="none" stroke="#000" stroke-width="30.0" stroke-linecap="round" stroke-linejoin="round"/></g><g transform="translate(551.3,43.9) scale(0.1185)"><path d="M20,-262 C86,-190 86,-62 20,5" fill="none" stroke="#000" stroke-width="42.0" stroke-linecap="round" stroke-linejoin="round"/></g>
<g fill="none" stroke-linecap="butt" stroke-linejoin="round">
<path d="M654.5,345.3 L655.3,338.2 L656.0,330.8 L656.6,323.2 L657.0,315.4 L657.4,307.5 L657.7,299.5 L657.9,291.4 L658.1,283.3 L658.4,275.1 L658.9,267.1 L659.5,259.1 L660.2,251.2 L661.1,243.5 L662.1,236.0 L663.1,228.8 L664.0,221.8 L665.0,215.2 L665.8,209.0 L666.6,203.1 L667.4,197.7 L668.1,192.7 L668.7,188.3 L669.4,184.3 L670.0,181.0 L670.7,178.2 L671.3,176.1 L672.0,174.5 L672.7,173.6 L673.3,173.3 L674.0,173.7 L674.7,174.8 L675.4,176.4 L676.1,178.7 L676.8,181.5 L677.5,185.0 L678.1,189.0 L678.7,193.6 L679.2,198.6 L679.7,204.2 L680.1,210.2 L680.5,216.5 L680.9,223.3 L681.2,230.3 L681.7,237.7 L682.3,245.2 L683.0,252.9 L683.9,260.8 L684.9,268.8 L686.0,276.8 L687.2,284.9 L688.2,292.9 L689.2,300.9 L690.1,308.9 L690.8,316.7 L691.5,324.4 L692.1,332.0 L692.6,339.4 L693.2,346.5 L693.9,353.5 L694.6,360.1 L695.4,366.6 L696.2,372.7 L697.0,378.6 L697.9,384.1 L698.7,389.4 L699.5,394.4 L700.3,399.1 L701.0,403.6 L701.7,407.8 L702.4,411.7 L703.0,415.3 L703.6,418.7 L704.2,421.8 L704.7,424.7 L705.3,427.4 L705.9,429.9 L706.4,432.2 L707.0,434.2 L707.5,436.1 L708.1,437.9 L708.7,439.4 L709.3,440.9 L709.9,442.2 L710.5,443.3 L711.1,444.4 L711.7,445.3 L712.3,446.2 L712.9,447.0 L713.6,447.6 L714.2,448.3 L714.8,448.8 L715.5,449.3 L716.2,449.7 L716.8,450.1 L717.5,450.5 L718.2,450.8 L718.8,451.1 L719.5,451.3 L720.2,451.5" stroke="#e03131" stroke-width="5.8"/>
<path d="M634.3,450.2 L634.8,450.1 L635.2,449.9 L635.7,449.7 L636.2,449.4 L636.7,449.1 L637.2,448.7 L637.7,448.2 L638.2,447.6 L638.8,446.8 L639.4,446.0 L640.0,444.9 L640.6,443.7 L641.2,442.3 L641.9,440.7 L642.6,439.0 L643.3,437.0 L644.0,434.8 L644.7,432.3 L645.4,429.7 L646.1,426.8 L646.7,423.7 L647.4,420.4 L648.0,416.9 L648.5,413.2 L649.0,409.4 L649.4,405.3 L649.8,401.1 L650.2,396.7 L650.6,392.1 L651.1,387.3 L651.6,382.4 L652.1,377.2 L652.7,371.7 L653.4,365.9 L654.2,359.8 L654.8,353.3 L655.4,346.2 L655.7,338.6 L655.8,330.4 L655.6,321.5 L655.4,311.9 L655.4,301.6 L655.8,290.6 L656.7,278.8 L657.7,266.3 L658.5,253.1 L658.8,239.3 L659.2,225.0 L660.2,210.4 L661.7,195.7 L663.1,180.9 L663.8,166.4 L663.7,152.3 L663.6,138.8 L663.7,126.4 L664.2,115.0 L664.9,105.1 L665.5,96.7 L666.0,90.1 L666.4,85.3 L666.9,82.4 L667.3,81.6 L667.9,82.7 L668.6,85.8 L669.5,90.8 L670.5,97.5 L671.5,105.9 L672.3,115.6 L672.6,126.5 L672.5,138.5 L672.1,151.1 L672.2,164.2 L672.7,177.6 L673.4,191.0 L673.8,204.2 L673.8,217.2 L673.8,229.7 L674.1,241.6 L674.9,252.9 L676.1,263.3 L677.3,273.1 L678.4,282.0 L679.3,290.2 L679.9,297.7 L680.4,304.5 L680.8,310.7 L681.2,316.2 L681.6,321.2 L682.1,325.7 L682.6,329.7 L683.1,333.3 L683.7,336.4 L684.3,339.2 L684.9,341.6 L685.4,343.6 L686.0,345.3 L686.6,346.7 L687.1,347.8 L687.6,348.7 L688.1,349.2 L688.5,349.6 L688.8,349.8 L689.2,349.9 L689.7,350.0 L690.2,350.0 L690.8,350.1 L691.5,350.4 L692.3,350.8 L693.0,351.4 L693.6,352.3 L694.3,353.4 L694.9,354.7 L695.5,356.4 L696.0,358.3 L696.6,360.6 L697.2,363.2 L697.7,366.1 L698.2,369.3 L698.6,372.7 L699.0,376.2 L699.3,380.0 L699.6,383.8 L699.8,387.7 L700.0,391.6 L700.2,395.4 L700.5,399.2 L700.8,402.8 L701.1,406.3 L701.5,409.6 L701.9,412.7 L702.3,415.6 L702.8,418.3 L703.4,420.7 L703.9,422.9 L704.5,425.0 L705.0,426.8 L705.6,428.4 L706.2,429.9 L706.8,431.2 L707.4,432.3 L708.0,433.4 L708.5,434.2 L709.1,435.0 L709.7,435.7 L710.3,436.3 L711.0,436.8 L711.6,437.2 L712.2,437.5 L712.8,437.8 L713.4,438.0 L714.0,438.2 L714.6,438.3 L715.2,438.3 L715.7,438.4 L716.3,438.4 L716.8,438.4 L717.3,438.4 L717.8,438.5 L718.3,438.5 L718.8,438.6 L719.3,438.8 L719.7,438.9 L720.2,439.1 L720.7,439.4 L721.2,439.7 L721.7,440.0 L722.2,440.5 L722.8,440.9 L723.3,441.4 L723.8,442.0 L724.3,442.5 L724.9,443.2 L725.4,443.8 L725.9,444.4 L726.5,445.0 L727.0,445.7 L727.5,446.3 L728.1,446.9 L728.6,447.5 L729.1,448.0 L729.7,448.5 L730.2,449.0 L730.8,449.5 L731.3,449.9 L731.8,450.2 L732.4,450.6 L732.9,450.9 L733.5,451.2 L734.0,451.4 L734.6,451.6 L735.1,451.8 L735.7,451.9 L736.2,452.1 L736.8,452.2 L737.3,452.3 L737.9,452.4 L738.4,452.4 L738.9,452.5 L739.5,452.5" stroke="#e03131" stroke-width="5.8" stroke-dasharray="20.7 9"/>
<path d="M772.2,413.3 L773.1,410.7 L774.1,407.9 L775.0,405.0 L776.0,402.1 L777.1,399.1 L778.2,396.0 L779.3,392.8 L780.5,389.5 L781.7,386.2 L782.9,382.8 L784.2,379.3 L785.5,375.8 L786.8,372.3 L788.1,368.7 L789.4,365.1 L790.6,361.5 L791.9,357.8 L793.0,354.2 L794.2,350.6 L795.3,347.0 L796.3,343.5 L797.4,340.0 L798.4,336.6 L799.5,333.3 L800.5,330.1 L801.6,327.0 L802.6,324.1 L803.7,321.3 L804.8,318.7 L805.9,316.3 L807.0,314.1 L808.1,312.1 L809.2,310.3 L810.3,308.7 L811.4,307.3 L812.5,306.2 L813.6,305.4 L814.6,304.8 L815.5,304.4 L816.5,304.3 L817.3,304.4 L818.2,304.7 L819.1,305.2 L820.0,305.9 L821.0,306.9 L821.9,308.2 L822.9,309.6 L823.8,311.3 L824.8,313.2 L825.8,315.3 L826.8,317.6 L827.8,320.1 L828.8,322.7 L829.9,325.5 L831.0,328.4 L832.1,331.5 L833.3,334.7 L834.5,337.9 L835.8,341.3 L837.1,344.7 L838.5,348.2 L839.8,351.7 L841.2,355.2 L842.5,358.8 L843.8,362.5 L845.1,366.1 L846.3,369.7 L847.5,373.3 L848.6,376.9 L849.7,380.4 L850.8,383.9 L851.8,387.4 L852.8,390.7 L853.8,394.0 L854.8,397.3 L855.8,400.4 L856.8,403.4 L857.8,406.3 L858.8,409.1 L859.9,411.8 L860.9,414.4 L862.0,416.9 L863.1,419.3 L864.2,421.5 L865.3,423.6 L866.4,425.6 L867.5,427.5 L868.6,429.3 L869.7,431.0 L870.8,432.6 L871.9,434.0 L873.0,435.4 L874.0,436.7 L875.1,437.9 L876.2,439.0 L877.2,440.1 L878.3,441.0 L879.3,441.9 L880.4,442.8" stroke="#2f9e44" stroke-width="5.8"/>
<path d="M737.5,452.2 L738.4,452.0 L739.3,451.8 L740.2,451.5 L741.1,451.2 L742.0,450.9 L742.9,450.5 L743.8,450.1 L744.7,449.6 L745.5,449.0 L746.4,448.4 L747.2,447.6 L748.1,446.8 L748.9,445.9 L749.7,444.9 L750.5,443.8 L751.3,442.5 L752.1,441.2 L752.9,439.7 L753.8,438.1 L754.6,436.4 L755.4,434.5 L756.2,432.5 L757.1,430.5 L757.9,428.3 L758.8,426.0 L759.7,423.7 L760.6,421.3 L761.5,418.8 L762.5,416.4 L763.4,413.9 L764.4,411.4 L765.3,409.0 L766.3,406.6 L767.2,404.3 L768.2,402.0 L769.1,399.9 L770.0,397.9 L771.0,396.1 L771.9,394.4 L772.8,392.8 L773.7,391.4 L774.6,390.2 L775.5,389.1 L776.4,388.1 L777.4,387.3 L778.3,386.6 L779.2,386.0 L780.1,385.5 L781.1,385.0 L782.0,384.6 L782.8,384.2 L783.7,383.7 L784.6,383.3 L785.4,382.7 L786.2,382.1 L787.1,381.4 L787.9,380.6 L788.7,379.6 L789.6,378.5 L790.4,377.2 L791.3,375.6 L792.1,374.0 L793.0,372.1 L793.8,370.0 L794.7,367.8 L795.6,365.3 L796.5,362.8 L797.5,360.1 L798.4,357.3 L799.4,354.4 L800.5,351.4 L801.5,348.4 L802.6,345.4 L803.7,342.4 L804.8,339.4 L805.9,336.5 L807.0,333.8 L808.1,331.1 L809.2,328.7 L810.2,326.4 L811.2,324.3 L812.2,322.4 L813.1,320.8 L814.0,319.5 L814.9,318.4 L815.7,317.5 L816.4,317.0 L817.0,316.6 L817.6,316.4 L818.1,316.4 L818.6,316.5 L819.2,316.7 L819.9,317.0 L820.6,317.5 L821.4,318.1 L822.2,318.8 L823.1,319.6 L824.0,320.5 L824.8,321.5 L825.7,322.5 L826.7,323.6 L827.6,324.7 L828.5,325.8 L829.4,327.0 L830.4,328.2 L831.3,329.5 L832.3,330.9 L833.3,332.3 L834.2,333.8 L835.2,335.5 L836.2,337.2 L837.2,339.1 L838.2,341.1 L839.2,343.2 L840.2,345.5 L841.3,347.9 L842.3,350.5 L843.2,353.2 L844.2,356.0 L845.2,359.0 L846.1,362.0 L847.0,365.2 L847.9,368.4 L848.8,371.7 L849.6,375.1 L850.5,378.4 L851.4,381.8 L852.3,385.1 L853.2,388.4 L854.1,391.6 L855.0,394.8 L856.0,397.8 L857.0,400.8 L858.0,403.7 L859.0,406.4 L860.0,409.0 L861.0,411.4 L861.9,413.8 L862.9,416.0 L863.9,418.0 L864.9,419.9 L865.8,421.7 L866.8,423.4 L867.7,424.9 L868.6,426.4 L869.5,427.7 L870.4,428.9 L871.3,430.0 L872.2,431.1 L873.1,432.1 L873.9,433.0 L874.8,433.9 L875.6,434.7 L876.5,435.5 L877.4,436.2 L878.2,436.9 L879.1,437.6 L879.9,438.3 L880.8,438.9 L881.6,439.6 L882.5,440.2 L883.4,440.8 L884.2,441.4 L885.1,442.0 L885.9,442.6 L886.8,443.2 L887.7,443.8 L888.5,444.3 L889.4,444.9 L890.2,445.4 L891.1,445.9 L891.9,446.4 L892.8,446.9 L893.6,447.4 L894.5,447.8 L895.3,448.3 L896.2,448.7 L897.1,449.0 L897.9,449.4 L898.8,449.7 L899.7,450.1 L900.6,450.4 L901.4,450.6 L902.3,450.9 L903.2,451.1 L904.1,451.3 L905.0,451.5 L905.9,451.7 L906.8,451.9 L907.7,452.0 L908.6,452.2 L909.5,452.3 L910.4,452.4 L911.3,452.5 L912.2,452.6 L913.1,452.7 L914.0,452.8 L914.9,452.8 L915.8,452.9" stroke="#2f9e44" stroke-width="5.8" stroke-dasharray="20.7 9"/>
<path d="M830.5,443.5 L831.9,442.7 L833.3,441.8 L834.7,440.9 L836.1,440.0 L837.5,438.9 L838.9,437.8 L840.3,436.6 L841.8,435.4 L843.2,434.0 L844.6,432.6 L846.0,431.1 L847.4,429.5 L848.8,427.9 L850.2,426.1 L851.6,424.3 L853.0,422.3 L854.4,420.3 L855.7,418.2 L857.1,416.0 L858.4,413.7 L859.7,411.4 L861.0,408.9 L862.3,406.4 L863.5,403.9 L864.8,401.3 L866.1,398.6 L867.3,395.9 L868.6,393.1 L869.9,390.4 L871.2,387.6 L872.6,384.8 L873.9,382.1 L875.3,379.3 L876.8,376.6 L878.3,373.9 L879.7,371.2 L881.3,368.6 L882.8,366.1 L884.4,363.7 L885.9,361.3 L887.5,359.0 L889.1,356.8 L890.6,354.7 L892.2,352.7 L893.7,350.9 L895.2,349.1 L896.7,347.6 L898.2,346.1 L899.6,344.8 L901.1,343.7 L902.5,342.7 L903.9,341.9 L905.3,341.3 L906.6,340.8 L908.0,340.5 L909.3,340.4 L910.6,340.5 L911.9,340.7 L913.3,341.1 L914.6,341.6 L915.9,342.3 L917.3,343.2 L918.7,344.3 L920.0,345.5 L921.4,346.9 L922.9,348.4 L924.3,350.1 L925.7,351.9 L927.1,353.8 L928.6,355.9 L930.0,358.1 L931.4,360.4 L932.8,362.8 L934.2,365.2 L935.6,367.8 L937.0,370.4 L938.3,373.1 L939.7,375.8 L941.0,378.6 L942.3,381.4 L943.6,384.2 L944.9,387.0 L946.2,389.8 L947.5,392.6 L948.8,395.3 L950.1,398.0 L951.5,400.7 L952.9,403.3 L954.3,405.9 L955.7,408.4 L957.2,410.8 L958.7,413.1 L960.2,415.3 L961.7,417.5 L963.2,419.6 L964.7,421.6 L966.3,423.5 L967.8,425.3 L969.3,427.0" stroke="#1c2fb4" stroke-width="5.8"/>
<path d="M782.9,453.2 L784.1,453.2 L785.3,453.1 L786.4,453.0 L787.6,452.9 L788.8,452.8 L790.0,452.7 L791.2,452.6 L792.3,452.4 L793.5,452.3 L794.7,452.2 L795.9,452.0 L797.1,451.8 L798.2,451.6 L799.4,451.4 L800.6,451.2 L801.8,451.0 L803.0,450.7 L804.1,450.4 L805.3,450.1 L806.5,449.8 L807.6,449.4 L808.8,449.1 L810.0,448.7 L811.1,448.2 L812.3,447.7 L813.5,447.3 L814.6,446.7 L815.8,446.2 L817.0,445.6 L818.2,445.0 L819.3,444.4 L820.5,443.7 L821.7,443.1 L822.9,442.4 L824.0,441.7 L825.2,441.0 L826.4,440.3 L827.6,439.6 L828.8,438.9 L830.0,438.2 L831.1,437.5 L832.3,436.7 L833.5,436.0 L834.7,435.4 L835.9,434.7 L837.1,434.0 L838.2,433.3 L839.4,432.6 L840.6,431.9 L841.8,431.2 L842.9,430.4 L844.1,429.6 L845.2,428.8 L846.4,427.9 L847.5,427.0 L848.7,426.0 L849.8,424.8 L850.9,423.6 L852.1,422.3 L853.2,420.9 L854.2,419.3 L855.3,417.6 L856.4,415.8 L857.5,413.8 L858.5,411.7 L859.6,409.4 L860.6,407.1 L861.7,404.5 L862.8,401.9 L863.9,399.2 L865.0,396.4 L866.2,393.6 L867.4,390.7 L868.6,387.8 L869.9,385.0 L871.2,382.1 L872.6,379.4 L873.9,376.7 L875.3,374.1 L876.7,371.6 L878.0,369.3 L879.4,367.2 L880.7,365.2 L882.0,363.5 L883.3,361.9 L884.6,360.6 L885.8,359.4 L887.0,358.5 L888.2,357.7 L889.3,357.2 L890.4,356.8 L891.5,356.6 L892.5,356.5 L893.6,356.6 L894.7,356.8 L895.7,357.0 L896.8,357.4 L897.9,357.9 L899.0,358.4 L900.2,359.0 L901.3,359.6 L902.5,360.2 L903.6,360.9 L904.8,361.6 L906.0,362.3 L907.2,363.1 L908.3,363.8 L909.5,364.5 L910.7,365.2 L911.9,365.8 L913.2,366.5 L914.4,367.1 L915.6,367.7 L916.8,368.3 L918.0,368.8 L919.2,369.3 L920.4,369.8 L921.6,370.3 L922.9,370.7 L924.1,371.0 L925.3,371.4 L926.5,371.7 L927.7,371.9 L928.9,372.2 L930.1,372.4 L931.2,372.7 L932.4,372.9 L933.6,373.1 L934.8,373.4 L935.9,373.7 L937.1,374.0 L938.3,374.4 L939.4,374.8 L940.6,375.3 L941.7,375.9 L942.9,376.6 L944.0,377.4 L945.2,378.2 L946.3,379.2 L947.4,380.3 L948.6,381.5 L949.7,382.8 L950.9,384.2 L952.0,385.7 L953.1,387.3 L954.3,389.0 L955.4,390.8 L956.6,392.7 L957.7,394.6 L958.9,396.6 L960.1,398.7 L961.3,400.7 L962.5,402.8 L963.8,404.9 L965.1,407.0 L966.3,409.2 L967.6,411.3 L968.9,413.4 L970.3,415.4 L971.6,417.4 L972.9,419.4 L974.2,421.4 L975.6,423.3 L976.9,425.1 L978.2,426.9 L979.5,428.6 L980.7,430.3 L982.0,431.9 L983.2,433.4 L984.5,434.9 L985.7,436.2 L986.9,437.5 L988.0,438.8 L989.2,439.9 L990.3,441.0 L991.5,442.0 L992.6,442.9 L993.7,443.7 L994.8,444.5 L995.9,445.2 L997.0,445.9 L998.1,446.5 L999.2,447.0 L1000.3,447.5 L1001.4,448.0 L1002.5,448.4 L1003.6,448.8 L1004.7,449.1 L1005.9,449.4 L1007.0,449.7 L1008.1,449.9 L1009.3,450.1 L1010.4,450.3 L1011.6,450.5 L1012.8,450.7 L1013.9,450.9 L1015.1,451.0 L1016.2,451.1 L1017.4,451.2" stroke="#1c2fb4" stroke-width="5.8" stroke-dasharray="20.7 9"/>
</g>
<g fill="none" stroke="#000" stroke-linecap="square" stroke-linejoin="round">
<path d="M615.9,452.0 L615.7,445.8 L615.6,439.7 L615.5,433.5 L615.4,427.4 L615.4,421.2 L615.5,415.1 L615.7,408.9 L615.9,402.8 L616.2,396.6 L616.4,390.4 L616.6,384.3 L616.8,378.1 L616.9,372.0 L616.9,365.8 L616.8,359.7 L616.6,353.5 L616.4,347.3 L616.1,341.2 L615.7,335.0 L615.4,328.9 L615.0,322.7 L614.8,316.6 L614.6,310.4 L614.4,304.2 L614.4,298.1 L614.5,291.9 L614.6,285.8 L614.9,279.6 L615.1,273.5 L615.4,267.3 L615.6,261.2 L615.8,255.0 L616.0,248.8 L616.0,242.7 L616.0,236.5 L616.0,230.4 L615.8,224.2 L615.7,218.1 L615.5,211.9 L615.3,205.8 L615.1,199.6 L615.1,193.4 L615.0,187.3 L615.1,181.1 L615.3,175.0 L615.5,168.8 L615.8,162.7 L616.1,156.5 L616.4,150.3 L616.7,144.2 L616.9,138.0 L617.1,131.9 L617.1,125.7 L617.1,119.6 L617.0,113.4 L616.8,107.2 L616.5,101.1 L616.2,94.9 L615.8,88.8 L615.5,82.6 L615.2,76.5 L615.0,70.3 L614.9,64.2 L614.8,58.0" stroke-width="4.6"/>
<path d="M615.7,452.6 L621.8,452.3 L627.9,451.9 L634.0,451.7 L640.1,451.4 L646.2,451.3 L652.3,451.2 L658.4,451.1 L664.5,451.2 L670.6,451.3 L676.7,451.5 L682.8,451.7 L689.0,451.9 L695.1,452.0 L701.2,452.2 L707.3,452.3 L713.4,452.3 L719.5,452.3 L725.6,452.2 L731.7,452.0 L737.8,451.8 L743.9,451.5 L750.0,451.3 L756.1,451.1 L762.2,450.9 L768.3,450.8 L774.4,450.7 L780.5,450.8 L786.6,450.9 L792.7,451.1 L798.8,451.3 L804.9,451.6 L811.0,452.0 L817.1,452.3 L823.2,452.7 L829.4,453.0 L835.5,453.2 L841.6,453.3 L847.7,453.4 L853.8,453.4 L859.9,453.3 L866.0,453.1 L872.1,452.9 L878.2,452.6 L884.3,452.4 L890.4,452.1 L896.5,451.9 L902.6,451.7 L908.7,451.6 L914.8,451.6 L920.9,451.6 L927.0,451.7 L933.1,451.9 L939.2,452.1 L945.3,452.3 L951.4,452.4 L957.5,452.6 L963.6,452.7 L969.7,452.7 L975.9,452.6 L982.0,452.5 L988.1,452.3 L994.2,452.1 L1000.3,451.8 L1006.4,451.5 L1012.5,451.2 L1018.6,450.9 L1024.7,450.7 L1030.8,450.5 L1036.9,450.5 L1043.0,450.5" stroke-width="4.6"/>
<path d="M640.6,452.0 L641.1,474.0" stroke-width="7.6" stroke-linecap="butt"/>
<path d="M906.3,452.0 L906.8,474.0" stroke-width="7.6" stroke-linecap="butt"/>
<path d="M615.7,452.0 L593.7,452.5" stroke-width="7.6" stroke-linecap="butt"/>
<path d="M615.7,304.8 L593.7,305.3" stroke-width="7.6" stroke-linecap="butt"/>
<path d="M615.7,157.6 L593.7,158.1" stroke-width="7.6" stroke-linecap="butt"/>
</g>
<g transform="translate(628.8,516.5) scale(0.1185)"><ellipse cx="100" cy="-132" rx="79" ry="113" transform="rotate(9 100 -132)" fill="none" stroke="#000" stroke-width="39.0"/></g>
<g transform="translate(895.5,516.5) scale(0.1185)"><path d="M22,-186 C34,-226 70,-247 106,-244 C141,-240 164,-214 163,-181 C162,-150 144,-126 120,-104 L24,-20 L162,-19" fill="none" stroke="#000" stroke-width="39.0" stroke-linecap="round" stroke-linejoin="round"/></g>
<g transform="translate(559.0,468.6) scale(0.1185)"><ellipse cx="100" cy="-132" rx="79" ry="113" transform="rotate(9 100 -132)" fill="none" stroke="#000" stroke-width="39.0"/></g>
<g transform="translate(561.1,321.4) scale(0.1185)"><path d="M22,-186 C34,-226 70,-247 106,-244 C141,-240 164,-214 163,-181 C162,-150 144,-126 120,-104 L24,-20 L162,-19" fill="none" stroke="#000" stroke-width="39.0" stroke-linecap="round" stroke-linejoin="round"/></g>
<g transform="translate(562.1,174.2) scale(0.1185)"><path d="M37,-245 L21,-122 L142,-128" fill="none" stroke="#000" stroke-width="39.0" stroke-linecap="round" stroke-linejoin="round"/><path d="M154,-226 L140,-20" fill="none" stroke="#000" stroke-width="39.0" stroke-linecap="round" stroke-linejoin="round"/></g>
<g transform="translate(631.6,167.8) scale(0.0669)"><path d="M78,-262 C10,-190 10,-62 78,5" fill="none" stroke="#e03131" stroke-width="47.0" stroke-linecap="round" stroke-linejoin="round"/></g><g transform="translate(639.4,167.8) scale(0.0669)"><ellipse cx="100" cy="-132" rx="79" ry="113" transform="rotate(9 100 -132)" fill="none" stroke="#e03131" stroke-width="43.7"/></g><g transform="translate(653.8,167.8) scale(0.0669)"><circle cx="23" cy="-22" r="23.0" fill="#e03131"/></g><g transform="translate(658.0,167.8) scale(0.0669)"><path d="M22,-186 C34,-226 70,-247 106,-244 C141,-240 164,-214 163,-181 C162,-150 144,-126 120,-104 L24,-20 L162,-19" fill="none" stroke="#e03131" stroke-width="43.7" stroke-linecap="round" stroke-linejoin="round"/></g><g transform="translate(671.2,167.8) scale(0.0669)"><path d="M26,-28 C30,-16 28,-6 22,2" fill="none" stroke="#e03131" stroke-width="26.9" stroke-linecap="round" stroke-linejoin="round"/><circle cx="22" cy="-150" r="21.0" fill="#e03131"/><circle cx="25" cy="-30" r="21.0" fill="#e03131"/></g><g transform="translate(675.5,167.8) scale(0.0669)"><ellipse cx="100" cy="-132" rx="79" ry="113" transform="rotate(9 100 -132)" fill="none" stroke="#e03131" stroke-width="43.7"/></g><g transform="translate(690.0,167.8) scale(0.0669)"><circle cx="23" cy="-22" r="23.0" fill="#e03131"/></g><g transform="translate(694.1,167.8) scale(0.0669)"><ellipse cx="100" cy="-132" rx="79" ry="113" transform="rotate(9 100 -132)" fill="none" stroke="#e03131" stroke-width="43.7"/></g><g transform="translate(708.6,167.8) scale(0.0669)"><path d="M20,-262 C86,-190 86,-62 20,5" fill="none" stroke="#e03131" stroke-width="47.0" stroke-linecap="round" stroke-linejoin="round"/></g>
<g transform="translate(779.2,297.9) scale(0.0669)"><path d="M78,-262 C10,-190 10,-62 78,5" fill="none" stroke="#2f9e44" stroke-width="47.0" stroke-linecap="round" stroke-linejoin="round"/></g><g transform="translate(787.0,297.9) scale(0.0669)"><path d="M40,-245 L23,-20" fill="none" stroke="#2f9e44" stroke-width="43.7" stroke-linecap="round" stroke-linejoin="round"/></g><g transform="translate(792.2,297.9) scale(0.0669)"><circle cx="23" cy="-22" r="23.0" fill="#2f9e44"/></g><g transform="translate(796.4,297.9) scale(0.0669)"><path d="M20,-240 L160,-256 L84,-166 C132,-170 176,-132 171,-86 C166,-36 122,-12 86,-17 C56,-22 36,-46 26,-72" fill="none" stroke="#2f9e44" stroke-width="43.7" stroke-linecap="round" stroke-linejoin="round"/></g><g transform="translate(810.6,297.9) scale(0.0669)"><path d="M26,-28 C30,-16 28,-6 22,2" fill="none" stroke="#2f9e44" stroke-width="26.9" stroke-linecap="round" stroke-linejoin="round"/><circle cx="22" cy="-150" r="21.0" fill="#2f9e44"/><circle cx="25" cy="-30" r="21.0" fill="#2f9e44"/></g><g transform="translate(814.9,297.9) scale(0.0669)"><ellipse cx="100" cy="-132" rx="79" ry="113" transform="rotate(9 100 -132)" fill="none" stroke="#2f9e44" stroke-width="43.7"/></g><g transform="translate(829.3,297.9) scale(0.0669)"><circle cx="23" cy="-22" r="23.0" fill="#2f9e44"/></g><g transform="translate(833.5,297.9) scale(0.0669)"><ellipse cx="100" cy="-132" rx="79" ry="113" transform="rotate(9 100 -132)" fill="none" stroke="#2f9e44" stroke-width="43.7"/></g><g transform="translate(847.9,297.9) scale(0.0669)"><path d="M20,-262 C86,-190 86,-62 20,5" fill="none" stroke="#2f9e44" stroke-width="47.0" stroke-linecap="round" stroke-linejoin="round"/></g>
<g transform="translate(872.7,334.1) scale(0.0669)"><path d="M78,-262 C10,-190 10,-62 78,5" fill="none" stroke="#1c2fb4" stroke-width="47.0" stroke-linecap="round" stroke-linejoin="round"/></g><g transform="translate(880.5,334.1) scale(0.0669)"><path d="M22,-186 C34,-226 70,-247 106,-244 C141,-240 164,-214 163,-181 C162,-150 144,-126 120,-104 L24,-20 L162,-19" fill="none" stroke="#1c2fb4" stroke-width="43.7" stroke-linecap="round" stroke-linejoin="round"/></g><g transform="translate(893.7,334.1) scale(0.0669)"><circle cx="23" cy="-22" r="23.0" fill="#1c2fb4"/></g><g transform="translate(897.9,334.1) scale(0.0669)"><ellipse cx="100" cy="-132" rx="79" ry="113" transform="rotate(9 100 -132)" fill="none" stroke="#1c2fb4" stroke-width="43.7"/></g><g transform="translate(912.3,334.1) scale(0.0669)"><path d="M26,-28 C30,-16 28,-6 22,2" fill="none" stroke="#1c2fb4" stroke-width="26.9" stroke-linecap="round" stroke-linejoin="round"/><circle cx="22" cy="-150" r="21.0" fill="#1c2fb4"/><circle cx="25" cy="-30" r="21.0" fill="#1c2fb4"/></g><g transform="translate(916.6,334.1) scale(0.0669)"><ellipse cx="100" cy="-132" rx="79" ry="113" transform="rotate(9 100 -132)" fill="none" stroke="#1c2fb4" stroke-width="43.7"/></g><g transform="translate(931.1,334.1) scale(0.0669)"><circle cx="23" cy="-22" r="23.0" fill="#1c2fb4"/></g><g transform="translate(935.2,334.1) scale(0.0669)"><path d="M40,-245 L23,-20" fill="none" stroke="#1c2fb4" stroke-width="43.7" stroke-linecap="round" stroke-linejoin="round"/></g><g transform="translate(940.4,334.1) scale(0.0669)"><path d="M20,-262 C86,-190 86,-62 20,5" fill="none" stroke="#1c2fb4" stroke-width="47.0" stroke-linecap="round" stroke-linejoin="round"/></g>
<g transform="translate(574.6,43.9) scale(0.1185)"><path d="M128,-198 L62,-226 C56,-150 52,-80 46,-16" fill="none" stroke="#000" stroke-width="30.0" stroke-linecap="round" stroke-linejoin="round"/><path d="M16,-131 L100,-143" fill="none" stroke="#000" stroke-width="30.0" stroke-linecap="round" stroke-linejoin="round"/></g><g transform="translate(594.3,43.9) scale(0.1185)"><path d="M20,-76 L126,-97 C124,-138 98,-150 74,-146 C40,-140 19,-105 19,-72 C19,-40 42,-17 76,-17 C100,-17 120,-27 130,-40" fill="none" stroke="#000" stroke-width="30.0" stroke-linecap="round" stroke-linejoin="round"/></g><g transform="translate(618.0,43.9) scale(0.1185)"><path d="M146,-126 C130,-150 104,-153 86,-148 C48,-138 17,-100 17,-63 C17,-33 36,-17 60,-17 C100,-17 134,-70 146,-120" fill="none" stroke="#000" stroke-width="30.0" stroke-linecap="round" stroke-linejoin="round"/><path d="M148,-150 C146,-100 138,-38 160,-17" fill="none" stroke="#000" stroke-width="30.0" stroke-linecap="round" stroke-linejoin="round"/></g><g transform="translate(645.9,43.9) scale(0.1185)"><path d="M58,-203 C55,-120 51,-80 54,-42 C56,-20 74,-14 93,-17" fill="none" stroke="#000" stroke-width="30.0" stroke-linecap="round" stroke-linejoin="round"/><path d="M14,-136 L96,-142" fill="none" stroke="#000" stroke-width="30.0" stroke-linecap="round" stroke-linejoin="round"/></g><g transform="translate(669.0,43.9) scale(0.1185)"><path d="M18,-143 C16,-90 17,-52 25,-36 C36,-14 70,-10 94,-40 C116,-70 121,-110 122,-143" fill="none" stroke="#000" stroke-width="30.0" stroke-linecap="round" stroke-linejoin="round"/></g><g transform="translate(692.7,43.9) scale(0.1185)"><path d="M21,-143 L12,-16" fill="none" stroke="#000" stroke-width="30.0" stroke-linecap="round" stroke-linejoin="round"/><path d="M16,-82 C35,-120 62,-142 120,-138" fill="none" stroke="#000" stroke-width="30.0" stroke-linecap="round" stroke-linejoin="round"/></g><g transform="translate(715.6,43.9) scale(0.1185)"><path d="M20,-76 L126,-97 C124,-138 98,-150 74,-146 C40,-140 19,-105 19,-72 C19,-40 42,-17 76,-17 C100,-17 120,-27 130,-40" fill="none" stroke="#000" stroke-width="30.0" stroke-linecap="round" stroke-linejoin="round"/></g><g transform="translate(745.8,43.9) scale(0.1185)"><path d="M13,-128 H82" fill="none" stroke="#000" stroke-width="27.0" stroke-linecap="round" stroke-linejoin="round"/><path d="M13,-93 H82" fill="none" stroke="#000" stroke-width="27.0" stroke-linecap="round" stroke-linejoin="round"/></g><g transform="translate(768.0,43.9) scale(0.1185)"><path d="M20,-138 L14,60" fill="none" stroke="#000" stroke-width="30.0" stroke-linecap="round" stroke-linejoin="round"/><path d="M19,-108 C40,-140 76,-152 100,-136 C130,-115 126,-60 96,-35 C70,-17 40,-19 18,-30" fill="none" stroke="#000" stroke-width="30.0" stroke-linecap="round" stroke-linejoin="round"/></g><g transform="translate(789.6,43.9) scale(0.1185)"><path d="M20,-76 L126,-97 C124,-138 98,-150 74,-146 C40,-140 19,-105 19,-72 C19,-40 42,-17 76,-17 C100,-17 120,-27 130,-40" fill="none" stroke="#000" stroke-width="30.0" stroke-linecap="round" stroke-linejoin="round"/></g><g transform="translate(815.4,43.9) scale(0.1185)"><path d="M58,-203 C55,-120 51,-80 54,-42 C56,-20 74,-14 93,-17" fill="none" stroke="#000" stroke-width="30.0" stroke-linecap="round" stroke-linejoin="round"/><path d="M14,-136 L96,-142" fill="none" stroke="#000" stroke-width="30.0" stroke-linecap="round" stroke-linejoin="round"/></g><g transform="translate(837.4,43.9) scale(0.1185)"><path d="M146,-126 C130,-150 104,-153 86,-148 C48,-138 17,-100 17,-63 C17,-33 36,-17 60,-17 C100,-17 134,-70 146,-120" fill="none" stroke="#000" stroke-width="30.0" stroke-linecap="round" stroke-linejoin="round"/><path d="M148,-150 C146,-100 138,-38 160,-17" fill="none" stroke="#000" stroke-width="30.0" stroke-linecap="round" stroke-linejoin="round"/></g><g transform="translate(867.0,43.9) scale(0.1185)"><path d="M13,-237 L28,-249 C25,-150 27,-72 30,-42 C33,-22 40,-16 47,-17" fill="none" stroke="#000" stroke-width="30.0" stroke-linecap="round" stroke-linejoin="round"/></g><g transform="translate(894.0,43.9) scale(0.1185)"><path d="M17,-148 L43,-18 L95,-106 L130,-18 L173,-146" fill="none" stroke="#000" stroke-width="30.0" stroke-linecap="round" stroke-linejoin="round"/></g><g transform="translate(919.8,43.9) scale(0.1185)"><path d="M30,-133 C28,-80 26,-32 40,-21 C50,-14 58,-14 64,-17" fill="none" stroke="#000" stroke-width="30.0" stroke-linecap="round" stroke-linejoin="round"/><circle cx="25" cy="-203" r="25.0" fill="#000"/></g><g transform="translate(931.4,43.9) scale(0.1185)"><path d="M120,-121 C105,-145 80,-149 62,-143 C35,-132 17,-100 17,-68 C17,-38 35,-17 58,-17 C88,-17 112,-60 120,-105" fill="none" stroke="#000" stroke-width="30.0" stroke-linecap="round" stroke-linejoin="round"/><path d="M127,-235 C124,-150 119,-80 121,-46 C122,-26 128,-17 133,-16" fill="none" stroke="#000" stroke-width="30.0" stroke-linecap="round" stroke-linejoin="round"/></g><g transform="translate(957.1,43.9) scale(0.1185)"><path d="M58,-203 C55,-120 51,-80 54,-42 C56,-20 74,-14 93,-17" fill="none" stroke="#000" stroke-width="30.0" stroke-linecap="round" stroke-linejoin="round"/><path d="M14,-136 L96,-142" fill="none" stroke="#000" stroke-width="30.0" stroke-linecap="round" stroke-linejoin="round"/></g><g transform="translate(980.8,43.9) scale(0.1185)"><path d="M27,-253 L14,-16" fill="none" stroke="#000" stroke-width="30.0" stroke-linecap="round" stroke-linejoin="round"/><path d="M17,-86 C40,-128 70,-148 90,-140 C113,-130 118,-80 128,-16" fill="none" stroke="#000" stroke-width="30.0" stroke-linecap="round" stroke-linejoin="round"/></g><g transform="translate(1012.8,43.9) scale(0.1185)"><path d="M78,-262 C10,-190 10,-62 78,5" fill="none" stroke="#000" stroke-width="42.0" stroke-linecap="round" stroke-linejoin="round"/></g><g transform="translate(1024.6,43.9) scale(0.1185)"><path d="M122,-132 C100,-150 70,-151 50,-136 C20,-112 9,-60 34,-31 C58,-5 100,-18 124,-42" fill="none" stroke="#000" stroke-width="30.0" stroke-linecap="round" stroke-linejoin="round"/></g><g transform="translate(1047.1,43.9) scale(0.1185)"><path d="M30,-143 L13,-16" fill="none" stroke="#000" stroke-width="30.0" stroke-linecap="round" stroke-linejoin="round"/><path d="M18,-80 C35,-124 60,-148 80,-140 C100,-130 98,-80 93,-16" fill="none" stroke="#000" stroke-width="30.0" stroke-linecap="round" stroke-linejoin="round"/><path d="M97,-90 C115,-130 140,-148 160,-140 C181,-130 182,-70 181,-16" fill="none" stroke="#000" stroke-width="30.0" stroke-linecap="round" stroke-linejoin="round"/></g><g transform="translate(1072.6,43.9) scale(0.1185)"><path d="M20,-262 C86,-190 86,-62 20,5" fill="none" stroke="#000" stroke-width="42.0" stroke-linecap="round" stroke-linejoin="round"/></g>
<g fill="none" stroke-linecap="butt" stroke-linejoin="round">
<path d="M1209.4,401.6 L1210.6,397.1 L1211.8,392.5 L1213.1,387.5 L1214.5,382.3 L1215.9,376.7 L1217.3,370.8 L1218.8,364.7 L1220.2,358.2 L1221.6,351.4 L1222.8,344.3 L1224.0,336.8 L1225.1,329.1 L1226.2,321.1 L1227.3,312.8 L1228.5,304.3 L1229.8,295.6 L1231.1,286.7 L1232.6,277.6 L1234.1,268.3 L1235.5,258.9 L1236.7,249.4 L1237.7,239.7 L1238.4,230.0 L1239.0,220.3 L1239.6,210.6 L1240.1,200.9 L1240.8,191.3 L1241.7,181.9 L1242.8,172.8 L1244.1,163.8 L1245.4,155.1 L1246.8,146.8 L1248.2,138.8 L1249.4,131.1 L1250.6,123.9 L1251.7,117.1 L1252.8,110.7 L1253.9,104.9 L1255.0,99.7 L1256.1,95.0 L1257.2,90.9 L1258.4,87.5 L1259.6,84.7 L1260.8,82.5 L1262.0,81.0 L1263.4,80.1 L1264.9,80.0 L1266.2,80.8 L1267.4,82.2 L1268.5,84.3 L1269.6,87.0 L1270.6,90.4 L1271.6,94.3 L1272.5,98.9 L1273.3,104.1 L1274.1,109.8 L1274.9,116.1 L1275.7,122.8 L1276.7,130.0 L1277.7,137.6 L1279.0,145.6 L1280.4,153.8 L1281.9,162.4 L1283.6,171.3 L1285.2,180.3 L1286.7,189.6 L1288.1,199.1 L1289.3,208.6 L1290.4,218.3 L1291.4,228.0 L1292.5,237.7 L1293.7,247.3 L1295.0,256.8 L1296.4,266.3 L1297.8,275.6 L1299.1,284.7 L1300.4,293.7 L1301.4,302.5 L1302.3,311.0 L1303.0,319.4 L1303.7,327.5 L1304.3,335.4 L1305.0,342.9 L1305.8,350.2 L1306.7,357.1 L1307.7,363.8 L1308.8,370.1 L1310.0,376.1 L1311.2,381.7 L1312.5,387.1 L1313.8,392.1 L1315.2,396.9 L1316.4,401.4 L1317.7,405.6 L1319.0,409.5 L1320.2,413.2 L1321.4,416.6 L1322.6,419.8 L1323.7,422.7" stroke="#e03131" stroke-width="5.8"/>
<path d="M1174.8,452.0 L1175.7,451.9 L1176.6,451.8 L1177.6,451.6 L1178.5,451.5 L1179.4,451.3 L1180.4,451.0 L1181.3,450.8 L1182.2,450.5 L1183.1,450.1 L1184.1,449.7 L1185.0,449.2 L1185.9,448.6 L1186.8,448.0 L1187.7,447.2 L1188.6,446.4 L1189.5,445.4 L1190.4,444.3 L1191.3,443.0 L1192.3,441.6 L1193.2,440.0 L1194.1,438.2 L1195.0,436.3 L1196.0,434.1 L1196.9,431.8 L1197.8,429.2 L1198.8,426.5 L1199.7,423.5 L1200.7,420.3 L1201.6,416.9 L1202.5,413.3 L1203.4,409.5 L1204.3,405.5 L1205.1,401.4 L1205.9,397.1 L1206.7,392.7 L1207.5,388.1 L1208.3,383.5 L1209.0,378.8 L1209.8,374.1 L1210.7,369.3 L1211.6,364.5 L1212.5,359.7 L1213.5,355.0 L1214.6,350.3 L1215.7,345.6 L1216.9,341.0 L1218.1,336.4 L1219.4,331.9 L1220.6,327.5 L1221.9,323.1 L1223.1,318.8 L1224.3,314.5 L1225.4,310.2 L1226.6,306.0 L1227.6,301.7 L1228.6,297.5 L1229.6,293.2 L1230.4,288.9 L1231.3,284.5 L1232.1,280.1 L1232.8,275.5 L1233.6,271.0 L1234.3,266.3 L1235.0,261.5 L1235.8,256.6 L1236.5,251.5 L1237.3,246.3 L1238.2,241.0 L1239.0,235.5 L1240.0,229.9 L1240.9,224.1 L1241.9,218.1 L1242.8,211.9 L1243.7,205.6 L1244.5,199.1 L1245.3,192.4 L1246.0,185.6 L1246.6,178.6 L1247.3,171.6 L1248.0,164.5 L1248.8,157.4 L1249.7,150.3 L1250.7,143.3 L1251.9,136.4 L1253.2,129.8 L1254.5,123.3 L1255.9,117.2 L1257.2,111.4 L1258.5,106.1 L1259.7,101.2 L1260.8,96.9 L1261.9,93.2 L1262.9,90.2 L1263.8,88.0 L1264.6,86.6 L1265.0,86.3 L1264.6,86.3 L1264.9,86.6 L1265.7,87.9 L1266.6,90.2 L1267.5,93.4 L1268.5,97.4 L1269.6,102.1 L1270.8,107.5 L1272.0,113.5 L1273.1,120.0 L1274.3,127.1 L1275.4,134.5 L1276.3,142.3 L1277.3,150.2 L1278.2,158.3 L1279.1,166.5 L1280.1,174.7 L1281.3,182.7 L1282.5,190.7 L1283.7,198.4 L1285.0,205.9 L1286.2,213.2 L1287.4,220.2 L1288.4,227.0 L1289.2,233.5 L1290.0,239.8 L1290.7,245.8 L1291.3,251.7 L1291.9,257.3 L1292.4,262.8 L1293.0,268.2 L1293.6,273.4 L1294.2,278.5 L1294.9,283.5 L1295.7,288.5 L1296.5,293.4 L1297.4,298.2 L1298.4,303.0 L1299.4,307.8 L1300.4,312.5 L1301.5,317.2 L1302.6,321.8 L1303.7,326.3 L1304.7,330.7 L1305.8,335.1 L1306.8,339.4 L1307.8,343.5 L1308.8,347.6 L1309.8,351.5 L1310.7,355.3 L1311.6,358.9 L1312.6,362.5 L1313.5,366.0 L1314.4,369.3 L1315.3,372.5 L1316.3,375.7 L1317.2,378.8 L1318.2,381.8 L1319.1,384.8 L1320.1,387.8 L1321.1,390.7 L1322.1,393.5 L1323.2,396.4 L1324.2,399.2 L1325.3,402.0 L1326.3,404.8 L1327.4,407.6 L1328.5,410.3 L1329.5,413.0 L1330.6,415.7 L1331.6,418.3 L1332.7,420.8 L1333.7,423.2 L1334.7,425.6 L1335.7,427.8 L1336.7,429.9 L1337.7,432.0 L1338.6,433.9 L1339.5,435.7 L1340.5,437.3 L1341.4,438.8 L1342.2,440.2 L1343.1,441.5 L1344.0,442.7 L1344.8,443.7 L1345.7,444.7 L1346.5,445.5 L1347.4,446.2 L1348.2,446.9 L1349.0,447.5 L1349.9,448.0 L1350.7,448.4 L1351.5,448.8 L1352.4,449.2 L1353.3,449.5 L1354.1,449.8 L1355.0,450.0 L1355.9,450.2 L1356.8,450.4 L1357.7,450.6 L1358.6,450.7 L1359.5,450.9 L1360.4,451.0" stroke="#e03131" stroke-width="5.8" stroke-dasharray="20.7 9"/>
<path d="M1256.9,419.9 L1258.4,417.0 L1259.8,414.0 L1261.3,410.7 L1262.7,407.3 L1264.2,403.7 L1265.6,400.0 L1267.1,396.1 L1268.7,392.0 L1270.3,387.8 L1271.9,383.4 L1273.6,378.8 L1275.3,374.1 L1277.0,369.2 L1278.7,364.2 L1280.4,358.9 L1282.0,353.5 L1283.5,348.0 L1285.1,342.3 L1286.6,336.5 L1288.1,330.6 L1289.6,324.7 L1291.3,318.7 L1293.1,312.7 L1295.0,306.7 L1297.1,300.7 L1299.2,294.7 L1301.3,288.8 L1303.4,282.9 L1305.4,277.1 L1307.3,271.4 L1309.1,265.7 L1310.7,260.2 L1312.2,254.7 L1313.6,249.5 L1315.0,244.4 L1316.3,239.6 L1317.7,235.1 L1319.1,230.8 L1320.6,226.8 L1322.1,223.2 L1323.7,219.8 L1325.3,216.9 L1326.9,214.3 L1328.6,212.1 L1330.2,210.3 L1331.9,208.9 L1333.7,207.9 L1335.4,207.3 L1337.2,207.2 L1338.9,207.5 L1340.7,208.2 L1342.4,209.4 L1344.1,210.9 L1345.7,212.8 L1347.4,215.1 L1349.1,217.8 L1350.8,220.8 L1352.5,224.1 L1354.2,227.8 L1356.0,231.8 L1357.8,236.0 L1359.6,240.5 L1361.5,245.3 L1363.3,250.3 L1365.0,255.6 L1366.6,261.0 L1368.2,266.7 L1369.6,272.5 L1370.8,278.5 L1372.0,284.5 L1373.2,290.7 L1374.4,296.9 L1375.6,303.1 L1377.0,309.2 L1378.6,315.3 L1380.3,321.4 L1382.1,327.3 L1384.1,333.1 L1386.0,338.9 L1388.0,344.5 L1389.9,350.0 L1391.8,355.5 L1393.6,360.7 L1395.3,365.9 L1397.0,370.9 L1398.6,375.8 L1400.2,380.5 L1401.9,385.0 L1403.6,389.3 L1405.2,393.5 L1407.0,397.4 L1408.7,401.2 L1410.5,404.7 L1412.3,408.1 L1414.1,411.2 L1415.8,414.2 L1417.6,417.0 L1419.4,419.6 L1421.1,422.1" stroke="#2f9e44" stroke-width="5.8"/>
<path d="M1200.7,452.3 L1202.1,452.3 L1203.5,452.2 L1204.9,452.2 L1206.2,452.1 L1207.6,452.1 L1209.0,451.9 L1210.4,451.8 L1211.8,451.6 L1213.2,451.4 L1214.6,451.1 L1216.0,450.8 L1217.4,450.5 L1218.8,450.0 L1220.3,449.5 L1221.7,448.9 L1223.1,448.3 L1224.5,447.5 L1225.9,446.7 L1227.3,445.8 L1228.7,444.8 L1230.0,443.6 L1231.4,442.4 L1232.8,441.0 L1234.2,439.6 L1235.6,438.0 L1236.9,436.4 L1238.3,434.6 L1239.7,432.7 L1241.1,430.8 L1242.5,428.7 L1243.9,426.6 L1245.3,424.4 L1246.7,422.2 L1248.1,419.9 L1249.5,417.7 L1250.9,415.3 L1252.4,413.0 L1253.8,410.7 L1255.3,408.4 L1256.7,406.1 L1258.2,403.8 L1259.6,401.6 L1261.0,399.3 L1262.5,397.1 L1263.9,394.9 L1265.3,392.6 L1266.7,390.3 L1268.1,388.0 L1269.5,385.6 L1270.9,383.1 L1272.3,380.4 L1273.6,377.7 L1274.9,374.7 L1276.2,371.6 L1277.4,368.3 L1278.6,364.7 L1279.8,360.8 L1280.9,356.7 L1282.0,352.4 L1283.1,347.7 L1284.1,342.8 L1285.2,337.6 L1286.4,332.2 L1287.6,326.6 L1288.9,320.8 L1290.2,314.9 L1291.7,308.8 L1293.2,302.7 L1294.8,296.5 L1296.4,290.3 L1298.0,284.2 L1299.6,278.2 L1301.1,272.4 L1302.5,266.7 L1303.9,261.3 L1305.3,256.2 L1306.7,251.5 L1308.0,247.1 L1309.4,243.1 L1310.7,239.6 L1312.1,236.5 L1313.5,233.8 L1314.9,231.6 L1316.3,229.8 L1317.7,228.5 L1319.2,227.6 L1320.7,227.0 L1322.1,226.9 L1323.6,227.1 L1325.0,227.7 L1326.4,228.5 L1327.8,229.6 L1329.1,230.9 L1330.5,232.4 L1331.8,234.0 L1333.1,235.8 L1334.4,237.7 L1335.7,239.7 L1337.0,241.8 L1338.2,244.0 L1339.5,246.2 L1340.7,248.5 L1342.0,250.9 L1343.3,253.3 L1344.5,255.7 L1345.8,258.2 L1347.0,260.8 L1348.3,263.4 L1349.6,266.0 L1350.9,268.7 L1352.3,271.4 L1353.6,274.2 L1355.0,276.9 L1356.4,279.7 L1357.8,282.6 L1359.3,285.4 L1360.8,288.2 L1362.3,291.0 L1363.8,293.8 L1365.3,296.6 L1366.8,299.4 L1368.4,302.1 L1369.9,304.7 L1371.5,307.3 L1373.0,309.8 L1374.5,312.3 L1376.0,314.7 L1377.5,317.1 L1379.0,319.4 L1380.5,321.6 L1381.9,323.9 L1383.4,326.1 L1384.8,328.2 L1386.2,330.4 L1387.6,332.6 L1389.0,334.8 L1390.4,337.0 L1391.8,339.3 L1393.2,341.6 L1394.5,344.0 L1395.9,346.4 L1397.3,349.0 L1398.6,351.6 L1400.0,354.3 L1401.3,357.1 L1402.7,360.0 L1404.0,363.0 L1405.4,366.1 L1406.8,369.2 L1408.2,372.4 L1409.6,375.6 L1411.0,378.9 L1412.4,382.2 L1413.9,385.5 L1415.4,388.9 L1416.8,392.2 L1418.3,395.5 L1419.7,398.8 L1421.2,402.0 L1422.6,405.2 L1424.1,408.3 L1425.5,411.3 L1426.8,414.3 L1428.2,417.1 L1429.5,419.8 L1430.8,422.5 L1432.1,425.0 L1433.4,427.4 L1434.7,429.6 L1436.0,431.8 L1437.3,433.8 L1438.5,435.7 L1439.8,437.5 L1441.1,439.1 L1442.4,440.6 L1443.6,442.0 L1445.0,443.3 L1446.3,444.5 L1447.6,445.5 L1448.9,446.5 L1450.3,447.4 L1451.6,448.2 L1453.0,448.9 L1454.4,449.5 L1455.7,450.1 L1457.1,450.6 L1458.5,451.0 L1459.9,451.4 L1461.3,451.8 L1462.7,452.1 L1464.1,452.3 L1465.5,452.5 L1466.9,452.7 L1468.3,452.9 L1469.7,453.0 L1471.1,453.2 L1472.5,453.3 L1473.9,453.3 L1475.3,453.4" stroke="#2f9e44" stroke-width="5.8" stroke-dasharray="20.7 9"/>
<path d="M1255.6,445.0 L1257.9,444.1 L1260.2,443.1 L1262.5,442.1 L1264.8,441.0 L1267.0,439.8 L1269.3,438.5 L1271.6,437.1 L1273.9,435.6 L1276.3,434.0 L1278.7,432.3 L1281.1,430.4 L1283.6,428.4 L1286.0,426.3 L1288.6,424.0 L1291.1,421.5 L1293.7,418.8 L1296.3,415.8 L1298.8,412.7 L1301.4,409.3 L1303.8,405.7 L1306.3,401.8 L1308.6,397.7 L1311.0,393.4 L1313.2,388.9 L1315.5,384.2 L1317.8,379.3 L1320.2,374.3 L1322.6,369.2 L1325.2,364.0 L1327.8,358.7 L1330.4,353.3 L1333.1,347.8 L1335.6,342.2 L1338.0,336.5 L1340.3,330.7 L1342.5,324.9 L1344.5,319.0 L1346.4,313.3 L1348.4,307.5 L1350.4,302.0 L1352.5,296.6 L1354.8,291.4 L1357.1,286.5 L1359.5,281.9 L1361.9,277.5 L1364.4,273.5 L1366.8,269.7 L1369.3,266.3 L1371.7,263.3 L1374.1,260.6 L1376.4,258.2 L1378.8,256.3 L1381.2,254.8 L1383.6,253.7 L1386.1,253.1 L1388.6,252.9 L1391.1,253.1 L1393.7,253.9 L1396.2,255.1 L1398.8,256.7 L1401.4,258.8 L1403.9,261.3 L1406.4,264.2 L1408.9,267.6 L1411.2,271.3 L1413.5,275.4 L1415.7,279.8 L1417.8,284.5 L1419.8,289.5 L1421.8,294.7 L1423.8,300.0 L1425.9,305.5 L1428.0,311.1 L1430.4,316.7 L1432.8,322.3 L1435.3,328.0 L1437.7,333.7 L1440.2,339.4 L1442.6,345.0 L1444.8,350.7 L1447.0,356.4 L1449.2,361.9 L1451.3,367.4 L1453.5,372.7 L1455.7,377.8 L1458.0,382.8 L1460.5,387.5 L1463.0,392.0 L1465.6,396.2 L1468.3,400.2 L1470.9,404.1 L1473.6,407.6 L1476.2,411.0 L1478.8,414.3 L1481.3,417.3 L1483.8,420.1 L1486.2,422.8 L1488.6,425.4 L1490.9,427.8" stroke="#1c2fb4" stroke-width="5.8"/>
<path d="M1187.9,453.1 L1189.7,453.2 L1191.6,453.2 L1193.5,453.2 L1195.3,453.2 L1197.2,453.1 L1199.1,453.1 L1201.0,453.0 L1202.8,452.8 L1204.7,452.7 L1206.6,452.5 L1208.5,452.3 L1210.3,452.0 L1212.2,451.8 L1214.1,451.5 L1215.9,451.2 L1217.8,450.8 L1219.7,450.4 L1221.5,450.0 L1223.4,449.6 L1225.2,449.2 L1227.1,448.7 L1228.9,448.3 L1230.8,447.8 L1232.7,447.3 L1234.5,446.9 L1236.4,446.4 L1238.2,446.0 L1240.1,445.6 L1242.0,445.2 L1243.8,444.8 L1245.7,444.4 L1247.5,444.1 L1249.4,443.8 L1251.3,443.6 L1253.1,443.4 L1255.0,443.2 L1256.8,443.0 L1258.7,442.8 L1260.6,442.6 L1262.4,442.4 L1264.3,442.2 L1266.2,442.0 L1268.0,441.7 L1269.9,441.3 L1271.8,440.8 L1273.7,440.3 L1275.5,439.6 L1277.4,438.7 L1279.2,437.7 L1281.0,436.6 L1282.8,435.2 L1284.6,433.6 L1286.3,431.9 L1288.0,429.9 L1289.7,427.8 L1291.3,425.4 L1293.0,422.8 L1294.7,420.0 L1296.3,417.0 L1298.1,413.8 L1299.8,410.5 L1301.7,406.9 L1303.6,403.3 L1305.6,399.5 L1307.7,395.5 L1309.8,391.4 L1311.9,387.2 L1314.1,382.9 L1316.3,378.5 L1318.4,373.9 L1320.4,369.2 L1322.3,364.4 L1324.2,359.5 L1326.1,354.5 L1327.9,349.5 L1329.7,344.4 L1331.5,339.2 L1333.4,334.0 L1335.4,328.8 L1337.4,323.6 L1339.5,318.4 L1341.6,313.2 L1343.7,308.1 L1345.7,302.9 L1347.6,297.8 L1349.4,292.7 L1351.1,287.7 L1352.7,282.9 L1354.2,278.2 L1355.8,273.8 L1357.3,269.6 L1358.9,265.7 L1360.5,262.2 L1362.2,259.0 L1363.9,256.3 L1365.8,254.0 L1367.7,252.2 L1369.8,250.8 L1371.9,250.0 L1374.1,249.7 L1376.3,250.0 L1378.4,250.9 L1380.5,252.2 L1382.4,254.0 L1384.3,256.2 L1386.2,258.7 L1388.0,261.6 L1389.7,264.8 L1391.5,268.2 L1393.3,271.9 L1395.0,275.7 L1396.9,279.7 L1398.7,283.8 L1400.6,287.9 L1402.5,292.2 L1404.5,296.4 L1406.4,300.7 L1408.3,304.9 L1410.1,309.1 L1411.9,313.3 L1413.6,317.4 L1415.3,321.5 L1416.9,325.4 L1418.6,329.3 L1420.2,333.0 L1421.8,336.5 L1423.4,340.0 L1425.1,343.2 L1426.8,346.3 L1428.6,349.2 L1430.4,351.9 L1432.2,354.4 L1434.1,356.8 L1436.0,358.9 L1438.0,360.9 L1440.0,362.7 L1441.9,364.4 L1443.9,365.9 L1445.9,367.3 L1447.9,368.6 L1449.8,369.8 L1451.8,370.9 L1453.8,371.9 L1455.7,372.9 L1457.6,373.9 L1459.6,374.9 L1461.5,375.9 L1463.4,377.0 L1465.3,378.1 L1467.3,379.4 L1469.2,380.7 L1471.1,382.2 L1473.0,383.9 L1474.9,385.7 L1476.8,387.6 L1478.6,389.7 L1480.5,391.9 L1482.3,394.3 L1484.2,396.8 L1486.0,399.4 L1487.9,402.1 L1489.7,404.8 L1491.6,407.6 L1493.5,410.4 L1495.4,413.2 L1497.3,415.9 L1499.3,418.6 L1501.3,421.3 L1503.3,423.8 L1505.2,426.2 L1507.2,428.5 L1509.1,430.7 L1511.0,432.8 L1512.9,434.7 L1514.8,436.5 L1516.7,438.2 L1518.5,439.7 L1520.3,441.1 L1522.1,442.4 L1523.8,443.5 L1525.6,444.6 L1527.3,445.5 L1529.1,446.4 L1530.9,447.2 L1532.7,447.9 L1534.5,448.5 L1536.2,449.1 L1538.1,449.6 L1539.9,450.1 L1541.7,450.5 L1543.5,450.9 L1545.4,451.2 L1547.2,451.5 L1549.1,451.8 L1551.0,452.1 L1552.8,452.3 L1554.7,452.5 L1556.5,452.6 L1558.4,452.8" stroke="#1c2fb4" stroke-width="5.8" stroke-dasharray="20.7 9"/>
</g>
<g fill="none" stroke="#000" stroke-linecap="square" stroke-linejoin="round">
<path d="M1154.1,452.0 L1154.2,445.8 L1154.2,439.7 L1154.1,433.5 L1154.0,427.4 L1153.7,421.2 L1153.5,415.1 L1153.2,408.9 L1152.9,402.8 L1152.6,396.6 L1152.5,390.4 L1152.3,384.3 L1152.3,378.1 L1152.4,372.0 L1152.6,365.8 L1152.8,359.7 L1153.1,353.5 L1153.5,347.3 L1153.8,341.2 L1154.1,335.0 L1154.4,328.9 L1154.6,322.7 L1154.7,316.6 L1154.7,310.4 L1154.7,304.2 L1154.5,298.1 L1154.3,291.9 L1154.1,285.8 L1153.9,279.6 L1153.7,273.5 L1153.6,267.3 L1153.5,261.2 L1153.5,255.0 L1153.5,248.8 L1153.7,242.7 L1153.8,236.5 L1154.0,230.4 L1154.3,224.2 L1154.4,218.1 L1154.6,211.9 L1154.7,205.8 L1154.7,199.6 L1154.6,193.4 L1154.4,187.3 L1154.1,181.1 L1153.8,175.0 L1153.5,168.8 L1153.1,162.7 L1152.8,156.5 L1152.6,150.3 L1152.4,144.2 L1152.3,138.0 L1152.3,131.9 L1152.4,125.7 L1152.6,119.6 L1152.9,113.4 L1153.1,107.2 L1153.4,101.1 L1153.7,94.9 L1154.0,88.8 L1154.1,82.6 L1154.2,76.5 L1154.2,70.3 L1154.2,64.2 L1154.1,58.0" stroke-width="4.6"/>
<path d="M1153.7,452.6 L1159.8,452.8 L1165.9,452.9 L1172.0,452.9 L1178.1,452.8 L1184.2,452.6 L1190.2,452.5 L1196.3,452.3 L1202.4,452.1 L1208.5,451.9 L1214.6,451.8 L1220.7,451.7 L1226.8,451.7 L1232.9,451.8 L1239.0,451.9 L1245.0,452.1 L1251.1,452.3 L1257.2,452.5 L1263.3,452.8 L1269.4,453.0 L1275.5,453.1 L1281.6,453.2 L1287.7,453.3 L1293.8,453.2 L1299.9,453.1 L1306.0,452.9 L1312.0,452.6 L1318.1,452.3 L1324.2,451.9 L1330.3,451.6 L1336.4,451.2 L1342.5,451.0 L1348.6,450.8 L1354.7,450.6 L1360.8,450.6 L1366.8,450.6 L1372.9,450.8 L1379.0,450.9 L1385.1,451.2 L1391.2,451.4 L1397.3,451.7 L1403.4,451.9 L1409.5,452.1 L1415.6,452.3 L1421.7,452.4 L1427.8,452.4 L1433.8,452.3 L1439.9,452.2 L1446.0,452.1 L1452.1,451.9 L1458.2,451.7 L1464.3,451.5 L1470.4,451.4 L1476.5,451.3 L1482.6,451.3 L1488.7,451.4 L1494.7,451.5 L1500.8,451.7 L1506.9,452.0 L1513.0,452.3 L1519.1,452.6 L1525.2,452.9 L1531.3,453.1 L1537.4,453.3 L1543.5,453.5 L1549.5,453.5 L1555.6,453.5 L1561.7,453.4 L1567.8,453.2 L1573.9,452.9 L1580.0,452.6" stroke-width="4.6"/>
<path d="M1185.7,452.0 L1186.2,474.0" stroke-width="7.6" stroke-linecap="butt"/>
<path d="M1341.9,452.0 L1342.4,474.0" stroke-width="7.6" stroke-linecap="butt"/>
<path d="M1498.1,452.0 L1498.6,474.0" stroke-width="7.6" stroke-linecap="butt"/>
<path d="M1153.7,452.0 L1131.7,452.5" stroke-width="7.6" stroke-linecap="butt"/>
<path d="M1153.7,372.9 L1131.7,373.4" stroke-width="7.6" stroke-linecap="butt"/>
<path d="M1153.7,293.9 L1131.7,294.4" stroke-width="7.6" stroke-linecap="butt"/>
<path d="M1153.7,214.9 L1131.7,215.4" stroke-width="7.6" stroke-linecap="butt"/>
<path d="M1153.7,135.8 L1131.7,136.3" stroke-width="7.6" stroke-linecap="butt"/>
</g>
<g transform="translate(1175.4,516.5) scale(0.1185)"><path d="M37,-245 L21,-122 L142,-128" fill="none" stroke="#000" stroke-width="39.0" stroke-linecap="round" stroke-linejoin="round"/><path d="M154,-226 L140,-20" fill="none" stroke="#000" stroke-width="39.0" stroke-linecap="round" stroke-linejoin="round"/></g>
<g transform="translate(1331.0,516.5) scale(0.1185)"><path d="M102,-240 C60,-212 26,-150 21,-92 C18,-42 50,-18 94,-18 C140,-20 165,-52 160,-90 C155,-124 120,-135 90,-125 C62,-115 38,-92 32,-62" fill="none" stroke="#000" stroke-width="39.0" stroke-linecap="round" stroke-linejoin="round"/></g>
<g transform="translate(1486.9,516.5) scale(0.1185)"><ellipse cx="90" cy="-193" rx="60" ry="50" transform="rotate(-12 90 -193)" fill="none" stroke="#000" stroke-width="39.0"/><ellipse cx="94" cy="-64" rx="74" ry="50" transform="rotate(-16 94 -64)" fill="none" stroke="#000" stroke-width="39.0"/></g>
<g transform="translate(1038.5,468.6) scale(0.1185)"><ellipse cx="100" cy="-132" rx="79" ry="113" transform="rotate(9 100 -132)" fill="none" stroke="#000" stroke-width="39.0"/></g><g transform="translate(1064.1,468.6) scale(0.1185)"><circle cx="23" cy="-22" r="23.0" fill="#000"/></g><g transform="translate(1071.4,468.6) scale(0.1185)"><ellipse cx="100" cy="-132" rx="79" ry="113" transform="rotate(9 100 -132)" fill="none" stroke="#000" stroke-width="39.0"/></g><g transform="translate(1097.0,468.6) scale(0.1185)"><ellipse cx="100" cy="-132" rx="79" ry="113" transform="rotate(9 100 -132)" fill="none" stroke="#000" stroke-width="39.0"/></g>
<g transform="translate(1043.3,389.6) scale(0.1185)"><ellipse cx="100" cy="-132" rx="79" ry="113" transform="rotate(9 100 -132)" fill="none" stroke="#000" stroke-width="39.0"/></g><g transform="translate(1068.9,389.6) scale(0.1185)"><circle cx="23" cy="-22" r="23.0" fill="#000"/></g><g transform="translate(1076.3,389.6) scale(0.1185)"><path d="M22,-186 C34,-226 70,-247 106,-244 C141,-240 164,-214 163,-181 C162,-150 144,-126 120,-104 L24,-20 L162,-19" fill="none" stroke="#000" stroke-width="39.0" stroke-linecap="round" stroke-linejoin="round"/></g><g transform="translate(1099.7,389.6) scale(0.1185)"><path d="M156,-238 L41,-229 L26,-138 C60,-160 106,-165 135,-140 C165,-114 164,-60 130,-32 C96,-7 42,-17 20,-54" fill="none" stroke="#000" stroke-width="39.0" stroke-linecap="round" stroke-linejoin="round"/></g>
<g transform="translate(1041.2,310.5) scale(0.1185)"><ellipse cx="100" cy="-132" rx="79" ry="113" transform="rotate(9 100 -132)" fill="none" stroke="#000" stroke-width="39.0"/></g><g transform="translate(1066.8,310.5) scale(0.1185)"><circle cx="23" cy="-22" r="23.0" fill="#000"/></g><g transform="translate(1074.1,310.5) scale(0.1185)"><path d="M156,-238 L41,-229 L26,-138 C60,-160 106,-165 135,-140 C165,-114 164,-60 130,-32 C96,-7 42,-17 20,-54" fill="none" stroke="#000" stroke-width="39.0" stroke-linecap="round" stroke-linejoin="round"/></g><g transform="translate(1097.0,310.5) scale(0.1185)"><ellipse cx="100" cy="-132" rx="79" ry="113" transform="rotate(9 100 -132)" fill="none" stroke="#000" stroke-width="39.0"/></g>
<g transform="translate(1044.3,231.5) scale(0.1185)"><ellipse cx="100" cy="-132" rx="79" ry="113" transform="rotate(9 100 -132)" fill="none" stroke="#000" stroke-width="39.0"/></g><g transform="translate(1069.9,231.5) scale(0.1185)"><circle cx="23" cy="-22" r="23.0" fill="#000"/></g><g transform="translate(1077.2,231.5) scale(0.1185)"><path d="M20,-230 L154,-242 C118,-180 76,-92 48,-20" fill="none" stroke="#000" stroke-width="39.0" stroke-linecap="round" stroke-linejoin="round"/></g><g transform="translate(1099.7,231.5) scale(0.1185)"><path d="M156,-238 L41,-229 L26,-138 C60,-160 106,-165 135,-140 C165,-114 164,-60 130,-32 C96,-7 42,-17 20,-54" fill="none" stroke="#000" stroke-width="39.0" stroke-linecap="round" stroke-linejoin="round"/></g>
<g transform="translate(1054.8,152.4) scale(0.1185)"><path d="M40,-245 L23,-20" fill="none" stroke="#000" stroke-width="39.0" stroke-linecap="round" stroke-linejoin="round"/></g><g transform="translate(1064.1,152.4) scale(0.1185)"><circle cx="23" cy="-22" r="23.0" fill="#000"/></g><g transform="translate(1071.4,152.4) scale(0.1185)"><ellipse cx="100" cy="-132" rx="79" ry="113" transform="rotate(9 100 -132)" fill="none" stroke="#000" stroke-width="39.0"/></g><g transform="translate(1097.0,152.4) scale(0.1185)"><ellipse cx="100" cy="-132" rx="79" ry="113" transform="rotate(9 100 -132)" fill="none" stroke="#000" stroke-width="39.0"/></g>
<g transform="translate(1227.4,74.9) scale(0.0669)"><path d="M78,-262 C10,-190 10,-62 78,5" fill="none" stroke="#e03131" stroke-width="47.0" stroke-linecap="round" stroke-linejoin="round"/></g><g transform="translate(1235.1,74.9) scale(0.0669)"><path d="M156,-238 L41,-229 L26,-138 C60,-160 106,-165 135,-140 C165,-114 164,-60 130,-32 C96,-7 42,-17 20,-54" fill="none" stroke="#e03131" stroke-width="43.7" stroke-linecap="round" stroke-linejoin="round"/></g><g transform="translate(1248.1,74.9) scale(0.0669)"><circle cx="23" cy="-22" r="23.0" fill="#e03131"/></g><g transform="translate(1252.2,74.9) scale(0.0669)"><ellipse cx="100" cy="-132" rx="79" ry="113" transform="rotate(9 100 -132)" fill="none" stroke="#e03131" stroke-width="43.7"/></g><g transform="translate(1266.7,74.9) scale(0.0669)"><path d="M26,-28 C30,-16 28,-6 22,2" fill="none" stroke="#e03131" stroke-width="26.9" stroke-linecap="round" stroke-linejoin="round"/><circle cx="22" cy="-150" r="21.0" fill="#e03131"/><circle cx="25" cy="-30" r="21.0" fill="#e03131"/></g><g transform="translate(1271.0,74.9) scale(0.0669)"><ellipse cx="100" cy="-132" rx="79" ry="113" transform="rotate(9 100 -132)" fill="none" stroke="#e03131" stroke-width="43.7"/></g><g transform="translate(1285.4,74.9) scale(0.0669)"><circle cx="23" cy="-22" r="23.0" fill="#e03131"/></g><g transform="translate(1289.6,74.9) scale(0.0669)"><path d="M40,-245 L23,-20" fill="none" stroke="#e03131" stroke-width="43.7" stroke-linecap="round" stroke-linejoin="round"/></g><g transform="translate(1294.8,74.9) scale(0.0669)"><path d="M20,-262 C86,-190 86,-62 20,5" fill="none" stroke="#e03131" stroke-width="47.0" stroke-linecap="round" stroke-linejoin="round"/></g>
<g transform="translate(1297.9,202.0) scale(0.0669)"><path d="M78,-262 C10,-190 10,-62 78,5" fill="none" stroke="#2f9e44" stroke-width="47.0" stroke-linecap="round" stroke-linejoin="round"/></g><g transform="translate(1305.7,202.0) scale(0.0669)"><path d="M156,-238 L41,-229 L26,-138 C60,-160 106,-165 135,-140 C165,-114 164,-60 130,-32 C96,-7 42,-17 20,-54" fill="none" stroke="#2f9e44" stroke-width="43.7" stroke-linecap="round" stroke-linejoin="round"/></g><g transform="translate(1318.6,202.0) scale(0.0669)"><circle cx="23" cy="-22" r="23.0" fill="#2f9e44"/></g><g transform="translate(1322.8,202.0) scale(0.0669)"><path d="M104,-196 C98,-236 70,-250 48,-241 C22,-230 12,-192 26,-164 C40,-138 78,-138 98,-170 C108,-188 109,-215 106,-236 L66,-20" fill="none" stroke="#2f9e44" stroke-width="43.7" stroke-linecap="round" stroke-linejoin="round"/></g><g transform="translate(1332.4,202.0) scale(0.0669)"><path d="M26,-28 C30,-16 28,-6 22,2" fill="none" stroke="#2f9e44" stroke-width="26.9" stroke-linecap="round" stroke-linejoin="round"/><circle cx="22" cy="-150" r="21.0" fill="#2f9e44"/><circle cx="25" cy="-30" r="21.0" fill="#2f9e44"/></g><g transform="translate(1336.7,202.0) scale(0.0669)"><ellipse cx="100" cy="-132" rx="79" ry="113" transform="rotate(9 100 -132)" fill="none" stroke="#2f9e44" stroke-width="43.7"/></g><g transform="translate(1351.2,202.0) scale(0.0669)"><circle cx="23" cy="-22" r="23.0" fill="#2f9e44"/></g><g transform="translate(1355.3,202.0) scale(0.0669)"><path d="M20,-240 L160,-256 L84,-166 C132,-170 176,-132 171,-86 C166,-36 122,-12 86,-17 C56,-22 36,-46 26,-72" fill="none" stroke="#2f9e44" stroke-width="43.7" stroke-linecap="round" stroke-linejoin="round"/></g><g transform="translate(1369.5,202.0) scale(0.0669)"><path d="M20,-262 C86,-190 86,-62 20,5" fill="none" stroke="#2f9e44" stroke-width="47.0" stroke-linecap="round" stroke-linejoin="round"/></g>
<g transform="translate(1347.5,248.0) scale(0.0669)"><path d="M78,-262 C10,-190 10,-62 78,5" fill="none" stroke="#1c2fb4" stroke-width="47.0" stroke-linecap="round" stroke-linejoin="round"/></g><g transform="translate(1355.3,248.0) scale(0.0669)"><path d="M102,-240 C60,-212 26,-150 21,-92 C18,-42 50,-18 94,-18 C140,-20 165,-52 160,-90 C155,-124 120,-135 90,-125 C62,-115 38,-92 32,-62" fill="none" stroke="#1c2fb4" stroke-width="43.7" stroke-linecap="round" stroke-linejoin="round"/></g><g transform="translate(1368.6,248.0) scale(0.0669)"><circle cx="23" cy="-22" r="23.0" fill="#1c2fb4"/></g><g transform="translate(1372.8,248.0) scale(0.0669)"><path d="M102,-240 C60,-212 26,-150 21,-92 C18,-42 50,-18 94,-18 C140,-20 165,-52 160,-90 C155,-124 120,-135 90,-125 C62,-115 38,-92 32,-62" fill="none" stroke="#1c2fb4" stroke-width="43.7" stroke-linecap="round" stroke-linejoin="round"/></g><g transform="translate(1386.2,248.0) scale(0.0669)"><path d="M26,-28 C30,-16 28,-6 22,2" fill="none" stroke="#1c2fb4" stroke-width="26.9" stroke-linecap="round" stroke-linejoin="round"/><circle cx="22" cy="-150" r="21.0" fill="#1c2fb4"/><circle cx="25" cy="-30" r="21.0" fill="#1c2fb4"/></g><g transform="translate(1390.5,248.0) scale(0.0669)"><ellipse cx="100" cy="-132" rx="79" ry="113" transform="rotate(9 100 -132)" fill="none" stroke="#1c2fb4" stroke-width="43.7"/></g><g transform="translate(1404.9,248.0) scale(0.0669)"><circle cx="23" cy="-22" r="23.0" fill="#1c2fb4"/></g><g transform="translate(1409.1,248.0) scale(0.0669)"><path d="M37,-245 L21,-122 L142,-128" fill="none" stroke="#1c2fb4" stroke-width="43.7" stroke-linecap="round" stroke-linejoin="round"/><path d="M154,-226 L140,-20" fill="none" stroke="#1c2fb4" stroke-width="43.7" stroke-linecap="round" stroke-linejoin="round"/></g><g transform="translate(1421.8,248.0) scale(0.0669)"><path d="M20,-262 C86,-190 86,-62 20,5" fill="none" stroke="#1c2fb4" stroke-width="47.0" stroke-linecap="round" stroke-linejoin="round"/></g>
<g transform="translate(1100.1,43.9) scale(0.1185)"><path d="M128,-198 L62,-226 C56,-150 52,-80 46,-16" fill="none" stroke="#000" stroke-width="30.0" stroke-linecap="round" stroke-linejoin="round"/><path d="M16,-131 L100,-143" fill="none" stroke="#000" stroke-width="30.0" stroke-linecap="round" stroke-linejoin="round"/></g><g transform="translate(1119.8,43.9) scale(0.1185)"><path d="M20,-76 L126,-97 C124,-138 98,-150 74,-146 C40,-140 19,-105 19,-72 C19,-40 42,-17 76,-17 C100,-17 120,-27 130,-40" fill="none" stroke="#000" stroke-width="30.0" stroke-linecap="round" stroke-linejoin="round"/></g><g transform="translate(1143.5,43.9) scale(0.1185)"><path d="M146,-126 C130,-150 104,-153 86,-148 C48,-138 17,-100 17,-63 C17,-33 36,-17 60,-17 C100,-17 134,-70 146,-120" fill="none" stroke="#000" stroke-width="30.0" stroke-linecap="round" stroke-linejoin="round"/><path d="M148,-150 C146,-100 138,-38 160,-17" fill="none" stroke="#000" stroke-width="30.0" stroke-linecap="round" stroke-linejoin="round"/></g><g transform="translate(1171.4,43.9) scale(0.1185)"><path d="M58,-203 C55,-120 51,-80 54,-42 C56,-20 74,-14 93,-17" fill="none" stroke="#000" stroke-width="30.0" stroke-linecap="round" stroke-linejoin="round"/><path d="M14,-136 L96,-142" fill="none" stroke="#000" stroke-width="30.0" stroke-linecap="round" stroke-linejoin="round"/></g><g transform="translate(1194.5,43.9) scale(0.1185)"><path d="M18,-143 C16,-90 17,-52 25,-36 C36,-14 70,-10 94,-40 C116,-70 121,-110 122,-143" fill="none" stroke="#000" stroke-width="30.0" stroke-linecap="round" stroke-linejoin="round"/></g><g transform="translate(1218.2,43.9) scale(0.1185)"><path d="M21,-143 L12,-16" fill="none" stroke="#000" stroke-width="30.0" stroke-linecap="round" stroke-linejoin="round"/><path d="M16,-82 C35,-120 62,-142 120,-138" fill="none" stroke="#000" stroke-width="30.0" stroke-linecap="round" stroke-linejoin="round"/></g><g transform="translate(1241.1,43.9) scale(0.1185)"><path d="M20,-76 L126,-97 C124,-138 98,-150 74,-146 C40,-140 19,-105 19,-72 C19,-40 42,-17 76,-17 C100,-17 120,-27 130,-40" fill="none" stroke="#000" stroke-width="30.0" stroke-linecap="round" stroke-linejoin="round"/></g><g transform="translate(1271.3,43.9) scale(0.1185)"><path d="M13,-128 H82" fill="none" stroke="#000" stroke-width="27.0" stroke-linecap="round" stroke-linejoin="round"/><path d="M13,-93 H82" fill="none" stroke="#000" stroke-width="27.0" stroke-linecap="round" stroke-linejoin="round"/></g><g transform="translate(1295.6,43.9) scale(0.1185)"><path d="M92,-136 C76,-150 55,-153 40,-148 C20,-142 9,-120 22,-103 C36,-86 76,-82 89,-62 C100,-42 86,-22 66,-16 C46,-11 26,-18 16,-36" fill="none" stroke="#000" stroke-width="30.0" stroke-linecap="round" stroke-linejoin="round"/></g><g transform="translate(1315.5,43.9) scale(0.1185)"><path d="M20,-76 L126,-97 C124,-138 98,-150 74,-146 C40,-140 19,-105 19,-72 C19,-40 42,-17 76,-17 C100,-17 120,-27 130,-40" fill="none" stroke="#000" stroke-width="30.0" stroke-linecap="round" stroke-linejoin="round"/></g><g transform="translate(1336.9,43.9) scale(0.1185)"><path d="M20,-138 L14,60" fill="none" stroke="#000" stroke-width="30.0" stroke-linecap="round" stroke-linejoin="round"/><path d="M19,-108 C40,-140 76,-152 100,-136 C130,-115 126,-60 96,-35 C70,-17 40,-19 18,-30" fill="none" stroke="#000" stroke-width="30.0" stroke-linecap="round" stroke-linejoin="round"/></g><g transform="translate(1358.3,43.9) scale(0.1185)"><path d="M146,-126 C130,-150 104,-153 86,-148 C48,-138 17,-100 17,-63 C17,-33 36,-17 60,-17 C100,-17 134,-70 146,-120" fill="none" stroke="#000" stroke-width="30.0" stroke-linecap="round" stroke-linejoin="round"/><path d="M148,-150 C146,-100 138,-38 160,-17" fill="none" stroke="#000" stroke-width="30.0" stroke-linecap="round" stroke-linejoin="round"/></g><g transform="translate(1387.6,43.9) scale(0.1185)"><path d="M13,-237 L28,-249 C25,-150 27,-72 30,-42 C33,-22 40,-16 47,-17" fill="none" stroke="#000" stroke-width="30.0" stroke-linecap="round" stroke-linejoin="round"/></g><g transform="translate(1417.8,43.9) scale(0.1185)"><path d="M13,-237 L28,-249 C25,-150 27,-72 30,-42 C33,-22 40,-16 47,-17" fill="none" stroke="#000" stroke-width="30.0" stroke-linecap="round" stroke-linejoin="round"/></g><g transform="translate(1434.4,43.9) scale(0.1185)"><path d="M20,-76 L126,-97 C124,-138 98,-150 74,-146 C40,-140 19,-105 19,-72 C19,-40 42,-17 76,-17 C100,-17 120,-27 130,-40" fill="none" stroke="#000" stroke-width="30.0" stroke-linecap="round" stroke-linejoin="round"/></g><g transform="translate(1458.1,43.9) scale(0.1185)"><path d="M20,-143 L13,-16" fill="none" stroke="#000" stroke-width="30.0" stroke-linecap="round" stroke-linejoin="round"/><path d="M16,-88 C35,-128 60,-147 80,-140 C104,-131 107,-90 111,-16" fill="none" stroke="#000" stroke-width="30.0" stroke-linecap="round" stroke-linejoin="round"/></g><g transform="translate(1481.2,43.9) scale(0.1185)"><path d="M128,-126 C110,-148 86,-151 66,-145 C36,-135 18,-100 18,-70 C18,-40 35,-22 58,-22 C90,-22 118,-70 128,-118" fill="none" stroke="#000" stroke-width="30.0" stroke-linecap="round" stroke-linejoin="round"/><path d="M131,-148 C130,-80 136,-20 124,18 C112,54 58,56 19,26" fill="none" stroke="#000" stroke-width="30.0" stroke-linecap="round" stroke-linejoin="round"/></g><g transform="translate(1509.4,43.9) scale(0.1185)"><path d="M58,-203 C55,-120 51,-80 54,-42 C56,-20 74,-14 93,-17" fill="none" stroke="#000" stroke-width="30.0" stroke-linecap="round" stroke-linejoin="round"/><path d="M14,-136 L96,-142" fill="none" stroke="#000" stroke-width="30.0" stroke-linecap="round" stroke-linejoin="round"/></g><g transform="translate(1531.9,43.9) scale(0.1185)"><path d="M27,-253 L14,-16" fill="none" stroke="#000" stroke-width="30.0" stroke-linecap="round" stroke-linejoin="round"/><path d="M17,-86 C40,-128 70,-148 90,-140 C113,-130 118,-80 128,-16" fill="none" stroke="#000" stroke-width="30.0" stroke-linecap="round" stroke-linejoin="round"/></g><g transform="translate(1564.1,43.9) scale(0.1185)"><path d="M78,-262 C10,-190 10,-62 78,5" fill="none" stroke="#000" stroke-width="42.0" stroke-linecap="round" stroke-linejoin="round"/></g><g transform="translate(1576.6,43.9) scale(0.1185)"><path d="M122,-132 C100,-150 70,-151 50,-136 C20,-112 9,-60 34,-31 C58,-5 100,-18 124,-42" fill="none" stroke="#000" stroke-width="30.0" stroke-linecap="round" stroke-linejoin="round"/></g><g transform="translate(1599.1,43.9) scale(0.1185)"><path d="M30,-143 L13,-16" fill="none" stroke="#000" stroke-width="30.0" stroke-linecap="round" stroke-linejoin="round"/><path d="M18,-80 C35,-124 60,-148 80,-140 C100,-130 98,-80 93,-16" fill="none" stroke="#000" stroke-width="30.0" stroke-linecap="round" stroke-linejoin="round"/><path d="M97,-90 C115,-130 140,-148 160,-140 C181,-130 182,-70 181,-16" fill="none" stroke="#000" stroke-width="30.0" stroke-linecap="round" stroke-linejoin="round"/></g><g transform="translate(1625.2,43.9) scale(0.1185)"><path d="M20,-262 C86,-190 86,-62 20,5" fill="none" stroke="#000" stroke-width="42.0" stroke-linecap="round" stroke-linejoin="round"/></g>
<g fill="none" stroke-linecap="butt" stroke-linejoin="round">
<path d="M1795.0,447.0 L1797.4,446.2 L1799.8,445.4 L1802.1,444.4 L1804.4,443.4 L1806.8,442.2 L1809.1,440.9 L1811.5,439.5 L1813.9,437.9 L1816.3,436.1 L1818.7,434.1 L1821.2,431.9 L1823.7,429.5 L1826.3,426.7 L1828.9,423.6 L1831.6,420.2 L1834.2,416.4 L1836.9,412.2 L1839.5,407.6 L1842.0,402.5 L1844.5,397.0 L1846.9,391.0 L1849.2,384.6 L1851.6,377.8 L1854.0,370.5 L1856.6,362.9 L1859.4,355.0 L1862.3,346.6 L1865.1,337.9 L1867.9,328.7 L1870.3,319.2 L1872.3,309.3 L1874.1,299.1 L1875.9,288.7 L1877.9,278.2 L1880.2,267.7 L1882.7,257.2 L1885.3,246.8 L1887.8,236.5 L1890.1,226.3 L1892.1,216.3 L1894.2,206.7 L1896.3,197.5 L1898.7,188.8 L1901.3,180.7 L1904.0,173.3 L1906.9,166.7 L1909.7,160.8 L1912.5,155.7 L1915.2,151.5 L1917.8,148.2 L1920.2,145.8 L1922.6,144.4 L1924.7,143.8 L1926.9,144.2 L1929.0,145.3 L1931.3,147.4 L1933.7,150.5 L1936.2,154.4 L1938.7,159.3 L1941.2,164.9 L1943.8,171.4 L1946.2,178.6 L1948.4,186.5 L1950.5,195.1 L1952.6,204.1 L1954.9,213.5 L1957.5,223.2 L1960.4,233.2 L1963.5,243.3 L1966.7,253.5 L1969.6,263.9 L1972.2,274.3 L1974.5,284.7 L1976.7,295.1 L1978.9,305.3 L1981.4,315.2 L1984.0,324.7 L1986.7,334.0 L1989.4,342.9 L1991.8,351.5 L1994.0,359.7 L1996.1,367.6 L1998.1,375.2 L2000.0,382.3 L2002.0,389.0 L2004.2,395.2 L2006.4,401.0 L2008.8,406.3 L2011.3,411.2 L2013.8,415.7 L2016.4,419.7 L2018.9,423.4 L2021.5,426.8 L2024.1,429.8 L2026.6,432.5 L2029.1,435.0 L2031.6,437.2 L2034.1,439.1 L2036.6,440.9" stroke="#e03131" stroke-width="5.8"/>
<path d="M1735.6,450.9 L1737.4,450.9 L1739.2,451.0 L1741.0,451.0 L1742.8,451.0 L1744.6,451.0 L1746.5,451.0 L1748.3,451.0 L1750.1,450.9 L1751.9,450.8 L1753.8,450.6 L1755.6,450.5 L1757.5,450.2 L1759.3,449.9 L1761.2,449.6 L1763.0,449.2 L1764.9,448.7 L1766.8,448.2 L1768.6,447.6 L1770.5,447.0 L1772.3,446.4 L1774.2,445.7 L1776.0,445.0 L1777.8,444.3 L1779.6,443.6 L1781.4,442.9 L1783.2,442.2 L1785.0,441.6 L1786.8,441.1 L1788.5,440.6 L1790.3,440.3 L1792.0,440.0 L1793.7,439.8 L1795.5,439.6 L1797.2,439.6 L1799.0,439.7 L1800.8,439.9 L1802.5,440.2 L1804.3,440.5 L1806.1,440.9 L1808.0,441.3 L1809.8,441.7 L1811.6,442.2 L1813.5,442.6 L1815.3,442.9 L1817.2,443.2 L1819.0,443.3 L1820.9,443.3 L1822.8,443.1 L1824.7,442.7 L1826.5,442.0 L1828.4,441.0 L1830.3,439.6 L1832.2,437.9 L1834.0,435.8 L1835.9,433.3 L1837.8,430.3 L1839.7,426.8 L1841.6,422.7 L1843.5,418.1 L1845.3,412.9 L1847.1,407.1 L1848.8,400.7 L1850.3,393.7 L1851.7,386.2 L1853.0,378.1 L1854.3,369.6 L1855.7,360.6 L1857.3,351.4 L1859.1,341.9 L1861.2,332.3 L1863.5,322.5 L1865.7,312.8 L1867.9,303.0 L1869.8,293.3 L1871.6,283.9 L1873.3,274.6 L1875.1,265.8 L1876.9,257.3 L1878.9,249.3 L1881.0,241.7 L1883.1,234.7 L1885.3,228.1 L1887.4,221.9 L1889.5,216.1 L1891.5,210.7 L1893.4,205.6 L1895.2,200.8 L1896.9,196.1 L1898.6,191.7 L1900.2,187.4 L1901.9,183.2 L1903.5,179.2 L1905.0,175.2 L1906.6,171.5 L1908.2,167.9 L1909.9,164.5 L1911.5,161.4 L1913.2,158.6 L1915.0,156.2 L1916.8,154.2 L1918.6,152.7 L1920.5,151.7 L1922.5,151.4 L1924.5,151.8 L1926.5,153.0 L1928.4,154.8 L1930.3,157.3 L1932.1,160.4 L1933.9,164.2 L1935.7,168.6 L1937.4,173.4 L1939.2,178.8 L1941.0,184.5 L1942.9,190.5 L1944.8,196.8 L1946.8,203.2 L1948.9,209.8 L1950.9,216.4 L1953.0,223.0 L1954.9,229.7 L1956.7,236.4 L1958.3,243.0 L1959.9,249.6 L1961.3,256.2 L1962.7,262.7 L1964.1,269.2 L1965.5,275.5 L1967.0,281.8 L1968.6,288.1 L1970.3,294.2 L1972.1,300.3 L1974.0,306.4 L1975.9,312.3 L1977.9,318.2 L1979.8,324.0 L1981.8,329.8 L1983.7,335.4 L1985.5,341.0 L1987.3,346.4 L1989.0,351.7 L1990.7,356.8 L1992.5,361.8 L1994.2,366.5 L1995.9,371.0 L1997.7,375.3 L1999.6,379.4 L2001.4,383.2 L2003.3,386.8 L2005.3,390.2 L2007.2,393.4 L2009.2,396.3 L2011.2,399.1 L2013.2,401.7 L2015.1,404.1 L2017.1,406.4 L2019.1,408.5 L2021.0,410.5 L2022.9,412.5 L2024.8,414.3 L2026.7,416.0 L2028.6,417.7 L2030.5,419.4 L2032.4,421.0 L2034.2,422.6 L2036.1,424.1 L2037.9,425.7 L2039.7,427.2 L2041.5,428.7 L2043.3,430.2 L2045.1,431.6 L2046.9,433.1 L2048.7,434.5 L2050.4,435.9 L2052.2,437.2 L2053.9,438.5 L2055.7,439.8 L2057.4,441.0 L2059.2,442.1 L2060.9,443.2 L2062.7,444.2 L2064.4,445.2 L2066.2,446.0 L2067.9,446.8 L2069.7,447.5 L2071.5,448.2 L2073.2,448.7 L2075.0,449.2 L2076.8,449.7 L2078.6,450.1 L2080.4,450.4 L2082.2,450.7 L2084.0,450.9 L2085.8,451.1 L2087.6,451.3 L2089.5,451.4 L2091.3,451.5 L2093.1,451.5 L2094.9,451.6 L2096.7,451.6" stroke="#e03131" stroke-width="5.8" stroke-dasharray="20.7 9"/>
<path d="M1759.6,432.6 L1761.3,430.6 L1763.0,428.4 L1764.7,425.9 L1766.4,423.3 L1768.1,420.4 L1769.9,417.2 L1771.8,413.8 L1773.6,410.1 L1775.5,406.2 L1777.4,401.9 L1779.3,397.3 L1781.2,392.4 L1783.1,387.1 L1784.9,381.5 L1786.6,375.5 L1788.3,369.2 L1789.9,362.5 L1791.4,355.4 L1792.8,348.0 L1794.2,340.3 L1795.6,332.3 L1797.1,324.0 L1798.6,315.3 L1800.2,306.5 L1801.9,297.3 L1803.6,288.0 L1805.2,278.4 L1806.7,268.6 L1808.0,258.6 L1809.3,248.5 L1810.4,238.3 L1811.6,228.0 L1812.9,217.8 L1814.4,207.6 L1816.2,197.5 L1818.1,187.6 L1820.3,177.9 L1822.5,168.4 L1824.6,159.1 L1826.7,150.2 L1828.6,141.6 L1830.4,133.3 L1832.1,125.5 L1833.6,118.2 L1835.1,111.4 L1836.6,105.1 L1838.1,99.4 L1839.7,94.4 L1841.2,90.1 L1842.7,86.4 L1844.3,83.5 L1845.8,81.3 L1847.4,79.9 L1848.8,79.3 L1850.2,79.3 L1851.7,80.0 L1853.3,81.5 L1854.8,83.7 L1856.4,86.7 L1858.0,90.4 L1859.6,94.8 L1861.2,99.9 L1862.8,105.6 L1864.4,111.9 L1866.1,118.7 L1867.9,126.1 L1869.7,133.9 L1871.7,142.2 L1873.8,150.8 L1875.9,159.8 L1877.9,169.1 L1879.7,178.7 L1881.4,188.5 L1882.8,198.5 L1884.0,208.7 L1885.1,219.0 L1886.1,229.3 L1887.2,239.5 L1888.5,249.7 L1889.9,259.8 L1891.6,269.7 L1893.3,279.5 L1895.1,289.0 L1896.9,298.3 L1898.6,307.4 L1900.2,316.3 L1901.8,324.8 L1903.4,333.1 L1904.9,341.1 L1906.5,348.7 L1908.1,356.0 L1909.8,363.0 L1911.6,369.6 L1913.4,375.8 L1915.3,381.7 L1917.2,387.3 L1919.1,392.5 L1921.0,397.4 L1922.8,401.9" stroke="#2f9e44" stroke-width="5.8"/>
<path d="M1711.4,451.3 L1712.7,451.2 L1714.0,451.1 L1715.3,450.9 L1716.6,450.8 L1717.8,450.6 L1719.1,450.4 L1720.4,450.2 L1721.7,449.9 L1723.0,449.6 L1724.2,449.3 L1725.5,449.0 L1726.7,448.6 L1728.0,448.1 L1729.2,447.7 L1730.4,447.2 L1731.6,446.6 L1732.9,446.0 L1734.1,445.3 L1735.3,444.6 L1736.6,443.8 L1737.8,442.9 L1739.0,442.0 L1740.3,441.0 L1741.6,439.9 L1742.8,438.8 L1744.1,437.6 L1745.4,436.3 L1746.7,435.0 L1748.1,433.5 L1749.4,432.0 L1750.8,430.4 L1752.2,428.7 L1753.6,426.9 L1755.0,425.1 L1756.5,423.0 L1757.9,420.9 L1759.4,418.7 L1760.9,416.3 L1762.3,413.7 L1763.8,411.0 L1765.2,408.1 L1766.6,405.1 L1768.0,401.8 L1769.4,398.4 L1770.7,394.8 L1772.0,390.9 L1773.2,387.0 L1774.5,382.8 L1775.7,378.5 L1777.0,374.0 L1778.3,369.5 L1779.6,364.8 L1781.0,360.0 L1782.5,355.2 L1784.0,350.3 L1785.6,345.4 L1787.1,340.5 L1788.6,335.5 L1790.1,330.6 L1791.4,325.7 L1792.7,320.8 L1793.9,316.0 L1795.0,311.3 L1796.0,306.6 L1797.1,302.1 L1798.1,297.7 L1799.1,293.4 L1800.1,289.3 L1801.2,285.3 L1802.3,281.4 L1803.5,277.7 L1804.7,274.1 L1805.9,270.7 L1807.2,267.3 L1808.5,264.1 L1809.9,260.9 L1811.3,257.9 L1812.6,254.8 L1814.0,251.8 L1815.4,248.7 L1816.7,245.7 L1818.1,242.5 L1819.4,239.3 L1820.7,236.0 L1821.9,232.6 L1823.2,229.0 L1824.4,225.3 L1825.5,221.4 L1826.7,217.3 L1827.8,213.0 L1829.0,208.6 L1830.2,204.0 L1831.5,199.2 L1832.8,194.3 L1834.3,189.2 L1835.9,184.0 L1837.5,178.6 L1839.2,173.2 L1841.0,167.6 L1842.7,162.0 L1844.3,156.4 L1845.8,150.7 L1847.2,145.1 L1848.5,139.5 L1849.7,134.1 L1850.9,128.8 L1852.1,123.7 L1853.2,119.0 L1854.4,114.5 L1855.7,110.5 L1856.9,106.8 L1858.2,103.7 L1859.5,101.1 L1860.8,99.1 L1862.1,97.7 L1863.2,97.0 L1864.2,96.8 L1865.2,97.2 L1866.3,98.3 L1867.5,100.1 L1868.6,102.7 L1869.8,106.0 L1871.0,110.0 L1872.3,114.7 L1873.6,120.0 L1875.1,126.0 L1876.7,132.6 L1878.6,139.6 L1880.5,147.2 L1882.3,155.3 L1884.0,163.8 L1885.4,172.6 L1886.6,181.8 L1887.5,191.2 L1888.5,200.8 L1889.5,210.4 L1890.8,220.1 L1892.3,229.8 L1893.8,239.4 L1895.1,248.9 L1896.1,258.3 L1896.9,267.6 L1897.6,276.7 L1898.3,285.6 L1899.2,294.3 L1900.4,302.6 L1901.8,310.7 L1903.4,318.4 L1905.1,325.9 L1906.8,333.1 L1908.4,340.0 L1909.8,346.7 L1911.2,353.1 L1912.5,359.2 L1913.7,365.2 L1914.9,370.8 L1916.2,376.2 L1917.5,381.4 L1918.9,386.3 L1920.3,390.9 L1921.8,395.4 L1923.3,399.5 L1924.9,403.5 L1926.4,407.2 L1927.9,410.8 L1929.4,414.1 L1930.9,417.3 L1932.3,420.2 L1933.7,423.0 L1935.1,425.6 L1936.4,428.1 L1937.7,430.3 L1939.0,432.4 L1940.2,434.4 L1941.5,436.2 L1942.7,437.9 L1943.9,439.4 L1945.1,440.8 L1946.3,442.1 L1947.5,443.3 L1948.7,444.3 L1949.9,445.3 L1951.1,446.1 L1952.3,446.9 L1953.5,447.6 L1954.7,448.2 L1956.0,448.8 L1957.2,449.2 L1958.5,449.7 L1959.8,450.0 L1961.0,450.4 L1962.3,450.7 L1963.6,450.9 L1964.9,451.1 L1966.2,451.3 L1967.5,451.5 L1968.8,451.6 L1970.1,451.8 L1971.4,451.9" stroke="#2f9e44" stroke-width="5.8" stroke-dasharray="20.7 9"/>
<path d="M1785.6,431.6 L1787.5,429.0 L1789.4,426.1 L1791.3,423.0 L1793.2,419.5 L1795.1,415.8 L1797.0,411.7 L1799.0,407.2 L1800.9,402.4 L1802.9,397.2 L1804.7,391.6 L1806.6,385.6 L1808.3,379.2 L1810.0,372.3 L1811.5,365.0 L1812.9,357.3 L1814.3,349.2 L1815.6,340.6 L1817.0,331.7 L1818.5,322.5 L1820.1,312.9 L1822.0,303.0 L1824.1,292.9 L1826.3,282.5 L1828.6,271.9 L1830.8,261.1 L1832.9,250.1 L1834.9,238.9 L1836.7,227.7 L1838.5,216.5 L1840.3,205.4 L1842.3,194.4 L1844.3,183.6 L1846.5,173.1 L1848.6,162.9 L1850.7,153.1 L1852.6,143.6 L1854.4,134.7 L1856.1,126.3 L1857.7,118.4 L1859.2,111.3 L1860.6,104.8 L1862.2,99.1 L1863.7,94.2 L1865.4,90.1 L1867.1,86.8 L1868.9,84.4 L1870.9,82.9 L1873.2,82.4 L1875.5,83.0 L1877.6,84.6 L1879.7,87.1 L1881.7,90.5 L1883.7,94.7 L1885.6,99.7 L1887.4,105.6 L1889.1,112.2 L1890.8,119.5 L1892.4,127.5 L1893.9,136.1 L1895.5,145.3 L1897.1,154.9 L1898.9,164.9 L1900.7,175.2 L1902.6,185.8 L1904.4,196.7 L1906.1,207.8 L1907.7,219.0 L1909.1,230.2 L1910.5,241.5 L1911.9,252.7 L1913.5,263.8 L1915.4,274.6 L1917.5,285.2 L1919.8,295.5 L1922.2,305.6 L1924.6,315.3 L1926.9,324.7 L1929.1,333.7 L1931.1,342.4 L1933.0,350.7 L1934.7,358.6 L1936.4,366.2 L1938.1,373.3 L1939.8,380.1 L1941.5,386.4 L1943.2,392.3 L1945.0,397.8 L1946.8,402.9 L1948.6,407.7 L1950.4,412.0 L1952.3,416.0 L1954.1,419.7 L1956.0,423.1 L1957.8,426.2 L1959.7,428.9 L1961.5,431.5 L1963.3,433.8 L1965.1,435.8 L1967.0,437.7" stroke="#1c2fb4" stroke-width="5.8"/>
<path d="M1735.0,450.7 L1736.5,450.6 L1737.9,450.5 L1739.3,450.4 L1740.7,450.3 L1742.1,450.2 L1743.4,450.1 L1744.8,449.9 L1746.2,449.8 L1747.6,449.6 L1749.0,449.3 L1750.4,449.1 L1751.8,448.7 L1753.2,448.4 L1754.6,448.0 L1756.0,447.5 L1757.4,447.0 L1758.8,446.5 L1760.3,445.9 L1761.7,445.2 L1763.2,444.5 L1764.6,443.7 L1766.1,442.9 L1767.6,442.1 L1769.0,441.2 L1770.5,440.2 L1772.0,439.2 L1773.5,438.2 L1775.0,437.2 L1776.5,436.1 L1778.1,435.0 L1779.6,433.8 L1781.1,432.5 L1782.6,431.2 L1784.1,429.8 L1785.7,428.3 L1787.2,426.7 L1788.7,424.9 L1790.3,422.9 L1791.8,420.7 L1793.3,418.3 L1794.7,415.7 L1796.1,412.7 L1797.5,409.5 L1798.8,406.0 L1800.1,402.1 L1801.3,398.0 L1802.4,393.5 L1803.5,388.7 L1804.6,383.5 L1805.7,378.1 L1806.8,372.4 L1808.0,366.5 L1809.2,360.3 L1810.6,353.9 L1812.0,347.4 L1813.5,340.6 L1815.0,333.8 L1816.5,326.7 L1818.0,319.6 L1819.4,312.3 L1820.8,305.0 L1822.1,297.6 L1823.5,290.1 L1824.9,282.6 L1826.4,275.0 L1828.1,267.4 L1829.9,259.8 L1831.8,252.2 L1833.7,244.6 L1835.5,236.9 L1837.2,229.2 L1838.7,221.5 L1840.0,213.7 L1841.1,205.9 L1842.1,198.2 L1843.0,190.5 L1843.8,182.9 L1844.8,175.5 L1845.8,168.1 L1847.0,160.9 L1848.4,154.0 L1849.9,147.2 L1851.4,140.6 L1853.0,134.2 L1854.6,128.0 L1856.2,122.1 L1857.8,116.4 L1859.2,111.0 L1860.7,105.9 L1862.1,101.1 L1863.6,96.8 L1865.0,92.8 L1866.4,89.4 L1867.8,86.4 L1869.2,84.1 L1870.7,82.3 L1872.2,81.2 L1873.7,80.9 L1875.3,81.3 L1876.7,82.5 L1878.1,84.5 L1879.5,87.3 L1880.8,90.8 L1882.0,95.1 L1883.2,100.1 L1884.3,105.8 L1885.4,112.2 L1886.5,119.1 L1887.7,126.6 L1889.1,134.5 L1890.7,142.8 L1892.5,151.4 L1894.6,160.3 L1896.7,169.4 L1898.8,178.7 L1900.6,188.2 L1902.2,197.8 L1903.5,207.4 L1904.5,217.2 L1905.5,226.9 L1906.5,236.5 L1907.7,246.1 L1908.9,255.5 L1910.3,264.8 L1911.8,274.0 L1913.1,283.0 L1914.4,291.8 L1915.6,300.5 L1916.7,308.9 L1917.9,317.1 L1919.1,324.9 L1920.5,332.5 L1922.0,339.7 L1923.6,346.6 L1925.4,353.1 L1927.2,359.2 L1929.0,364.8 L1930.8,370.1 L1932.6,375.0 L1934.3,379.5 L1935.9,383.5 L1937.4,387.2 L1938.9,390.4 L1940.4,393.3 L1941.8,395.8 L1943.1,397.9 L1944.4,399.7 L1945.7,401.2 L1947.0,402.5 L1948.2,403.5 L1949.5,404.3 L1950.8,405.0 L1952.0,405.6 L1953.4,406.1 L1954.7,406.5 L1956.1,406.9 L1957.5,407.3 L1958.9,407.7 L1960.3,408.2 L1961.8,408.8 L1963.2,409.5 L1964.6,410.3 L1966.1,411.2 L1967.4,412.3 L1968.8,413.5 L1970.2,414.9 L1971.5,416.4 L1972.9,418.0 L1974.2,419.7 L1975.5,421.4 L1976.8,423.3 L1978.2,425.2 L1979.5,427.1 L1980.9,429.1 L1982.2,431.0 L1983.6,432.9 L1985.0,434.8 L1986.4,436.5 L1987.8,438.2 L1989.3,439.8 L1990.7,441.3 L1992.1,442.7 L1993.6,444.0 L1995.0,445.2 L1996.5,446.2 L1997.9,447.1 L1999.4,448.0 L2000.8,448.7 L2002.3,449.3 L2003.7,449.9 L2005.1,450.3 L2006.6,450.7 L2008.0,451.1 L2009.5,451.4 L2010.9,451.6 L2012.3,451.8 L2013.7,451.9 L2015.2,452.1 L2016.6,452.2" stroke="#1c2fb4" stroke-width="5.8" stroke-dasharray="20.7 9"/>
</g>
<g fill="none" stroke="#000" stroke-linecap="square" stroke-linejoin="round">
<path d="M1691.7,452.0 L1692.0,445.8 L1692.3,439.7 L1692.6,433.5 L1692.9,427.4 L1693.1,421.2 L1693.3,415.1 L1693.3,408.9 L1693.3,402.8 L1693.2,396.6 L1693.0,390.4 L1692.9,384.3 L1692.7,378.1 L1692.5,372.0 L1692.4,365.8 L1692.3,359.7 L1692.3,353.5 L1692.4,347.3 L1692.6,341.2 L1692.8,335.0 L1693.1,328.9 L1693.3,322.7 L1693.6,316.6 L1693.8,310.4 L1693.9,304.2 L1694.0,298.1 L1694.0,291.9 L1693.9,285.8 L1693.6,279.6 L1693.4,273.5 L1693.0,267.3 L1692.7,261.2 L1692.3,255.0 L1692.0,248.8 L1691.8,242.7 L1691.6,236.5 L1691.5,230.4 L1691.6,224.2 L1691.7,218.1 L1691.8,211.9 L1692.1,205.8 L1692.3,199.6 L1692.5,193.4 L1692.7,187.3 L1692.9,181.1 L1693.0,175.0 L1693.0,168.8 L1692.9,162.7 L1692.8,156.5 L1692.6,150.3 L1692.4,144.2 L1692.2,138.0 L1692.0,131.9 L1691.9,125.7 L1691.9,119.6 L1691.9,113.4 L1692.0,107.2 L1692.2,101.1 L1692.5,94.9 L1692.8,88.8 L1693.2,82.6 L1693.5,76.5 L1693.8,70.3 L1694.0,64.2 L1694.1,58.0" stroke-width="4.6"/>
<path d="M1692.7,452.3 L1698.8,451.9 L1704.9,451.6 L1711.0,451.3 L1717.1,451.0 L1723.2,450.9 L1729.2,450.8 L1735.3,450.8 L1741.4,450.9 L1747.5,451.0 L1753.6,451.2 L1759.7,451.4 L1765.8,451.6 L1771.9,451.9 L1778.0,452.1 L1784.0,452.2 L1790.1,452.3 L1796.2,452.3 L1802.3,452.2 L1808.4,452.1 L1814.5,451.9 L1820.6,451.7 L1826.7,451.5 L1832.8,451.4 L1838.9,451.2 L1845.0,451.1 L1851.0,451.1 L1857.1,451.1 L1863.2,451.2 L1869.3,451.4 L1875.4,451.7 L1881.5,452.0 L1887.6,452.3 L1893.7,452.6 L1899.8,452.9 L1905.8,453.2 L1911.9,453.4 L1918.0,453.5 L1924.1,453.6 L1930.2,453.5 L1936.3,453.3 L1942.4,453.1 L1948.5,452.9 L1954.6,452.6 L1960.7,452.3 L1966.8,452.0 L1972.8,451.7 L1978.9,451.5 L1985.0,451.4 L1991.1,451.3 L1997.2,451.3 L2003.3,451.4 L2009.4,451.5 L2015.5,451.7 L2021.6,451.9 L2027.7,452.0 L2033.7,452.2 L2039.8,452.3 L2045.9,452.4 L2052.0,452.4 L2058.1,452.3 L2064.2,452.1 L2070.3,451.9 L2076.4,451.7 L2082.5,451.4 L2088.6,451.2 L2094.6,451.0 L2100.7,450.8 L2106.8,450.7 L2112.9,450.6 L2119.0,450.7" stroke-width="4.6"/>
<path d="M1760.9,452.0 L1761.4,474.0" stroke-width="7.6" stroke-linecap="butt"/>
<path d="M1990.9,452.0 L1991.4,474.0" stroke-width="7.6" stroke-linecap="butt"/>
<path d="M1692.7,452.0 L1670.7,452.5" stroke-width="7.6" stroke-linecap="butt"/>
<path d="M1692.7,305.2 L1670.7,305.7" stroke-width="7.6" stroke-linecap="butt"/>
<path d="M1692.7,158.4 L1670.7,158.9" stroke-width="7.6" stroke-linecap="butt"/>
</g>
<g transform="translate(1750.1,516.5) scale(0.1185)"><path d="M22,-186 C34,-226 70,-247 106,-244 C141,-240 164,-214 163,-181 C162,-150 144,-126 120,-104 L24,-20 L162,-19" fill="none" stroke="#000" stroke-width="39.0" stroke-linecap="round" stroke-linejoin="round"/></g>
<g transform="translate(1980.6,516.5) scale(0.1185)"><path d="M37,-245 L21,-122 L142,-128" fill="none" stroke="#000" stroke-width="39.0" stroke-linecap="round" stroke-linejoin="round"/><path d="M154,-226 L140,-20" fill="none" stroke="#000" stroke-width="39.0" stroke-linecap="round" stroke-linejoin="round"/></g>
<g transform="translate(1603.1,468.6) scale(0.1185)"><ellipse cx="100" cy="-132" rx="79" ry="113" transform="rotate(9 100 -132)" fill="none" stroke="#000" stroke-width="39.0"/></g><g transform="translate(1628.7,468.6) scale(0.1185)"><circle cx="23" cy="-22" r="23.0" fill="#000"/></g><g transform="translate(1636.0,468.6) scale(0.1185)"><ellipse cx="100" cy="-132" rx="79" ry="113" transform="rotate(9 100 -132)" fill="none" stroke="#000" stroke-width="39.0"/></g>
<g transform="translate(1605.8,321.8) scale(0.1185)"><ellipse cx="100" cy="-132" rx="79" ry="113" transform="rotate(9 100 -132)" fill="none" stroke="#000" stroke-width="39.0"/></g><g transform="translate(1631.4,321.8) scale(0.1185)"><circle cx="23" cy="-22" r="23.0" fill="#000"/></g><g transform="translate(1638.7,321.8) scale(0.1185)"><path d="M156,-238 L41,-229 L26,-138 C60,-160 106,-165 135,-140 C165,-114 164,-60 130,-32 C96,-7 42,-17 20,-54" fill="none" stroke="#000" stroke-width="39.0" stroke-linecap="round" stroke-linejoin="round"/></g>
<g transform="translate(1619.4,175.0) scale(0.1185)"><path d="M40,-245 L23,-20" fill="none" stroke="#000" stroke-width="39.0" stroke-linecap="round" stroke-linejoin="round"/></g><g transform="translate(1628.7,175.0) scale(0.1185)"><circle cx="23" cy="-22" r="23.0" fill="#000"/></g><g transform="translate(1636.0,175.0) scale(0.1185)"><ellipse cx="100" cy="-132" rx="79" ry="113" transform="rotate(9 100 -132)" fill="none" stroke="#000" stroke-width="39.0"/></g>
<g transform="translate(1888.5,137.4) scale(0.0669)"><path d="M78,-262 C10,-190 10,-62 78,5" fill="none" stroke="#e03131" stroke-width="47.0" stroke-linecap="round" stroke-linejoin="round"/></g><g transform="translate(1896.2,137.4) scale(0.0669)"><path d="M20,-240 L160,-256 L84,-166 C132,-170 176,-132 171,-86 C166,-36 122,-12 86,-17 C56,-22 36,-46 26,-72" fill="none" stroke="#e03131" stroke-width="43.7" stroke-linecap="round" stroke-linejoin="round"/></g><g transform="translate(1910.4,137.4) scale(0.0669)"><circle cx="23" cy="-22" r="23.0" fill="#e03131"/></g><g transform="translate(1914.6,137.4) scale(0.0669)"><path d="M37,-245 L21,-122 L142,-128" fill="none" stroke="#e03131" stroke-width="43.7" stroke-linecap="round" stroke-linejoin="round"/><path d="M154,-226 L140,-20" fill="none" stroke="#e03131" stroke-width="43.7" stroke-linecap="round" stroke-linejoin="round"/></g><g transform="translate(1927.3,137.4) scale(0.0669)"><path d="M26,-28 C30,-16 28,-6 22,2" fill="none" stroke="#e03131" stroke-width="26.9" stroke-linecap="round" stroke-linejoin="round"/><circle cx="22" cy="-150" r="21.0" fill="#e03131"/><circle cx="25" cy="-30" r="21.0" fill="#e03131"/></g><g transform="translate(1931.6,137.4) scale(0.0669)"><ellipse cx="100" cy="-132" rx="79" ry="113" transform="rotate(9 100 -132)" fill="none" stroke="#e03131" stroke-width="43.7"/></g><g transform="translate(1946.0,137.4) scale(0.0669)"><circle cx="23" cy="-22" r="23.0" fill="#e03131"/></g><g transform="translate(1950.2,137.4) scale(0.0669)"><path d="M40,-245 L23,-20" fill="none" stroke="#e03131" stroke-width="43.7" stroke-linecap="round" stroke-linejoin="round"/></g><g transform="translate(1955.4,137.4) scale(0.0669)"><path d="M20,-262 C86,-190 86,-62 20,5" fill="none" stroke="#e03131" stroke-width="47.0" stroke-linecap="round" stroke-linejoin="round"/></g>
<g transform="translate(1812.8,73.1) scale(0.0669)"><path d="M78,-262 C10,-190 10,-62 78,5" fill="none" stroke="#2f9e44" stroke-width="47.0" stroke-linecap="round" stroke-linejoin="round"/></g><g transform="translate(1820.5,73.1) scale(0.0669)"><path d="M22,-186 C34,-226 70,-247 106,-244 C141,-240 164,-214 163,-181 C162,-150 144,-126 120,-104 L24,-20 L162,-19" fill="none" stroke="#2f9e44" stroke-width="43.7" stroke-linecap="round" stroke-linejoin="round"/></g><g transform="translate(1833.8,73.1) scale(0.0669)"><circle cx="23" cy="-22" r="23.0" fill="#2f9e44"/></g><g transform="translate(1837.9,73.1) scale(0.0669)"><ellipse cx="90" cy="-193" rx="60" ry="50" transform="rotate(-12 90 -193)" fill="none" stroke="#2f9e44" stroke-width="43.7"/><ellipse cx="94" cy="-64" rx="74" ry="50" transform="rotate(-16 94 -64)" fill="none" stroke="#2f9e44" stroke-width="43.7"/></g><g transform="translate(1851.7,73.1) scale(0.0669)"><path d="M26,-28 C30,-16 28,-6 22,2" fill="none" stroke="#2f9e44" stroke-width="26.9" stroke-linecap="round" stroke-linejoin="round"/><circle cx="22" cy="-150" r="21.0" fill="#2f9e44"/><circle cx="25" cy="-30" r="21.0" fill="#2f9e44"/></g><g transform="translate(1855.9,73.1) scale(0.0669)"><ellipse cx="100" cy="-132" rx="79" ry="113" transform="rotate(9 100 -132)" fill="none" stroke="#2f9e44" stroke-width="43.7"/></g><g transform="translate(1870.4,73.1) scale(0.0669)"><circle cx="23" cy="-22" r="23.0" fill="#2f9e44"/></g><g transform="translate(1874.6,73.1) scale(0.0669)"><path d="M40,-245 L23,-20" fill="none" stroke="#2f9e44" stroke-width="43.7" stroke-linecap="round" stroke-linejoin="round"/></g><g transform="translate(1879.8,73.1) scale(0.0669)"><path d="M20,-262 C86,-190 86,-62 20,5" fill="none" stroke="#2f9e44" stroke-width="47.0" stroke-linecap="round" stroke-linejoin="round"/></g>
<g transform="translate(1835.4,77.8) scale(0.0669)"><path d="M78,-262 C10,-190 10,-62 78,5" fill="none" stroke="#1c2fb4" stroke-width="47.0" stroke-linecap="round" stroke-linejoin="round"/></g><g transform="translate(1843.2,77.8) scale(0.0669)"><path d="M20,-240 L160,-256 L84,-166 C132,-170 176,-132 171,-86 C166,-36 122,-12 86,-17 C56,-22 36,-46 26,-72" fill="none" stroke="#1c2fb4" stroke-width="43.7" stroke-linecap="round" stroke-linejoin="round"/></g><g transform="translate(1857.3,77.8) scale(0.0669)"><circle cx="23" cy="-22" r="23.0" fill="#1c2fb4"/></g><g transform="translate(1861.5,77.8) scale(0.0669)"><ellipse cx="100" cy="-132" rx="79" ry="113" transform="rotate(9 100 -132)" fill="none" stroke="#1c2fb4" stroke-width="43.7"/></g><g transform="translate(1876.0,77.8) scale(0.0669)"><path d="M26,-28 C30,-16 28,-6 22,2" fill="none" stroke="#1c2fb4" stroke-width="26.9" stroke-linecap="round" stroke-linejoin="round"/><circle cx="22" cy="-150" r="21.0" fill="#1c2fb4"/><circle cx="25" cy="-30" r="21.0" fill="#1c2fb4"/></g><g transform="translate(1880.2,77.8) scale(0.0669)"><ellipse cx="100" cy="-132" rx="79" ry="113" transform="rotate(9 100 -132)" fill="none" stroke="#1c2fb4" stroke-width="43.7"/></g><g transform="translate(1894.7,77.8) scale(0.0669)"><circle cx="23" cy="-22" r="23.0" fill="#1c2fb4"/></g><g transform="translate(1898.9,77.8) scale(0.0669)"><path d="M40,-245 L23,-20" fill="none" stroke="#1c2fb4" stroke-width="43.7" stroke-linecap="round" stroke-linejoin="round"/></g><g transform="translate(1904.1,77.8) scale(0.0669)"><path d="M20,-262 C86,-190 86,-62 20,5" fill="none" stroke="#1c2fb4" stroke-width="47.0" stroke-linecap="round" stroke-linejoin="round"/></g>
<g transform="translate(1653.6,43.9) scale(0.1185)"><path d="M128,-198 L62,-226 C56,-150 52,-80 46,-16" fill="none" stroke="#000" stroke-width="30.0" stroke-linecap="round" stroke-linejoin="round"/><path d="M16,-131 L100,-143" fill="none" stroke="#000" stroke-width="30.0" stroke-linecap="round" stroke-linejoin="round"/></g><g transform="translate(1673.3,43.9) scale(0.1185)"><path d="M20,-76 L126,-97 C124,-138 98,-150 74,-146 C40,-140 19,-105 19,-72 C19,-40 42,-17 76,-17 C100,-17 120,-27 130,-40" fill="none" stroke="#000" stroke-width="30.0" stroke-linecap="round" stroke-linejoin="round"/></g><g transform="translate(1697.0,43.9) scale(0.1185)"><path d="M146,-126 C130,-150 104,-153 86,-148 C48,-138 17,-100 17,-63 C17,-33 36,-17 60,-17 C100,-17 134,-70 146,-120" fill="none" stroke="#000" stroke-width="30.0" stroke-linecap="round" stroke-linejoin="round"/><path d="M148,-150 C146,-100 138,-38 160,-17" fill="none" stroke="#000" stroke-width="30.0" stroke-linecap="round" stroke-linejoin="round"/></g><g transform="translate(1724.9,43.9) scale(0.1185)"><path d="M58,-203 C55,-120 51,-80 54,-42 C56,-20 74,-14 93,-17" fill="none" stroke="#000" stroke-width="30.0" stroke-linecap="round" stroke-linejoin="round"/><path d="M14,-136 L96,-142" fill="none" stroke="#000" stroke-width="30.0" stroke-linecap="round" stroke-linejoin="round"/></g><g transform="translate(1748.0,43.9) scale(0.1185)"><path d="M18,-143 C16,-90 17,-52 25,-36 C36,-14 70,-10 94,-40 C116,-70 121,-110 122,-143" fill="none" stroke="#000" stroke-width="30.0" stroke-linecap="round" stroke-linejoin="round"/></g><g transform="translate(1771.7,43.9) scale(0.1185)"><path d="M21,-143 L12,-16" fill="none" stroke="#000" stroke-width="30.0" stroke-linecap="round" stroke-linejoin="round"/><path d="M16,-82 C35,-120 62,-142 120,-138" fill="none" stroke="#000" stroke-width="30.0" stroke-linecap="round" stroke-linejoin="round"/></g><g transform="translate(1794.6,43.9) scale(0.1185)"><path d="M20,-76 L126,-97 C124,-138 98,-150 74,-146 C40,-140 19,-105 19,-72 C19,-40 42,-17 76,-17 C100,-17 120,-27 130,-40" fill="none" stroke="#000" stroke-width="30.0" stroke-linecap="round" stroke-linejoin="round"/></g><g transform="translate(1824.8,43.9) scale(0.1185)"><path d="M13,-128 H82" fill="none" stroke="#000" stroke-width="27.0" stroke-linecap="round" stroke-linejoin="round"/><path d="M13,-93 H82" fill="none" stroke="#000" stroke-width="27.0" stroke-linecap="round" stroke-linejoin="round"/></g><g transform="translate(1849.1,43.9) scale(0.1185)"><path d="M92,-136 C76,-150 55,-153 40,-148 C20,-142 9,-120 22,-103 C36,-86 76,-82 89,-62 C100,-42 86,-22 66,-16 C46,-11 26,-18 16,-36" fill="none" stroke="#000" stroke-width="30.0" stroke-linecap="round" stroke-linejoin="round"/></g><g transform="translate(1869.0,43.9) scale(0.1185)"><path d="M20,-76 L126,-97 C124,-138 98,-150 74,-146 C40,-140 19,-105 19,-72 C19,-40 42,-17 76,-17 C100,-17 120,-27 130,-40" fill="none" stroke="#000" stroke-width="30.0" stroke-linecap="round" stroke-linejoin="round"/></g><g transform="translate(1890.4,43.9) scale(0.1185)"><path d="M20,-138 L14,60" fill="none" stroke="#000" stroke-width="30.0" stroke-linecap="round" stroke-linejoin="round"/><path d="M19,-108 C40,-140 76,-152 100,-136 C130,-115 126,-60 96,-35 C70,-17 40,-19 18,-30" fill="none" stroke="#000" stroke-width="30.0" stroke-linecap="round" stroke-linejoin="round"/></g><g transform="translate(1911.8,43.9) scale(0.1185)"><path d="M146,-126 C130,-150 104,-153 86,-148 C48,-138 17,-100 17,-63 C17,-33 36,-17 60,-17 C100,-17 134,-70 146,-120" fill="none" stroke="#000" stroke-width="30.0" stroke-linecap="round" stroke-linejoin="round"/><path d="M148,-150 C146,-100 138,-38 160,-17" fill="none" stroke="#000" stroke-width="30.0" stroke-linecap="round" stroke-linejoin="round"/></g><g transform="translate(1941.1,43.9) scale(0.1185)"><path d="M13,-237 L28,-249 C25,-150 27,-72 30,-42 C33,-22 40,-16 47,-17" fill="none" stroke="#000" stroke-width="30.0" stroke-linecap="round" stroke-linejoin="round"/></g><g transform="translate(1968.1,43.9) scale(0.1185)"><path d="M17,-148 L43,-18 L95,-106 L130,-18 L173,-146" fill="none" stroke="#000" stroke-width="30.0" stroke-linecap="round" stroke-linejoin="round"/></g><g transform="translate(1993.9,43.9) scale(0.1185)"><path d="M30,-133 C28,-80 26,-32 40,-21 C50,-14 58,-14 64,-17" fill="none" stroke="#000" stroke-width="30.0" stroke-linecap="round" stroke-linejoin="round"/><circle cx="25" cy="-203" r="25.0" fill="#000"/></g><g transform="translate(2005.5,43.9) scale(0.1185)"><path d="M120,-121 C105,-145 80,-149 62,-143 C35,-132 17,-100 17,-68 C17,-38 35,-17 58,-17 C88,-17 112,-60 120,-105" fill="none" stroke="#000" stroke-width="30.0" stroke-linecap="round" stroke-linejoin="round"/><path d="M127,-235 C124,-150 119,-80 121,-46 C122,-26 128,-17 133,-16" fill="none" stroke="#000" stroke-width="30.0" stroke-linecap="round" stroke-linejoin="round"/></g><g transform="translate(2031.2,43.9) scale(0.1185)"><path d="M58,-203 C55,-120 51,-80 54,-42 C56,-20 74,-14 93,-17" fill="none" stroke="#000" stroke-width="30.0" stroke-linecap="round" stroke-linejoin="round"/><path d="M14,-136 L96,-142" fill="none" stroke="#000" stroke-width="30.0" stroke-linecap="round" stroke-linejoin="round"/></g><g transform="translate(2054.9,43.9) scale(0.1185)"><path d="M27,-253 L14,-16" fill="none" stroke="#000" stroke-width="30.0" stroke-linecap="round" stroke-linejoin="round"/><path d="M17,-86 C40,-128 70,-148 90,-140 C113,-130 118,-80 128,-16" fill="none" stroke="#000" stroke-width="30.0" stroke-linecap="round" stroke-linejoin="round"/></g><g transform="translate(2086.9,43.9) scale(0.1185)"><path d="M78,-262 C10,-190 10,-62 78,5" fill="none" stroke="#000" stroke-width="42.0" stroke-linecap="round" stroke-linejoin="round"/></g><g transform="translate(2098.7,43.9) scale(0.1185)"><path d="M122,-132 C100,-150 70,-151 50,-136 C20,-112 9,-60 34,-31 C58,-5 100,-18 124,-42" fill="none" stroke="#000" stroke-width="30.0" stroke-linecap="round" stroke-linejoin="round"/></g><g transform="translate(2121.2,43.9) scale(0.1185)"><path d="M30,-143 L13,-16" fill="none" stroke="#000" stroke-width="30.0" stroke-linecap="round" stroke-linejoin="round"/><path d="M18,-80 C35,-124 60,-148 80,-140 C100,-130 98,-80 93,-16" fill="none" stroke="#000" stroke-width="30.0" stroke-linecap="round" stroke-linejoin="round"/><path d="M97,-90 C115,-130 140,-148 160,-140 C181,-130 182,-70 181,-16" fill="none" stroke="#000" stroke-width="30.0" stroke-linecap="round" stroke-linejoin="round"/></g><g transform="translate(2146.7,43.9) scale(0.1185)"><path d="M20,-262 C86,-190 86,-62 20,5" fill="none" stroke="#000" stroke-width="42.0" stroke-linecap="round" stroke-linejoin="round"/></g>
<g transform="translate(2199.3,189.1) scale(0.1185)"><path d="M58,-203 C55,-120 51,-80 54,-42 C56,-20 74,-14 93,-17" fill="none" stroke="#000" stroke-width="30.0" stroke-linecap="round" stroke-linejoin="round"/><path d="M14,-136 L96,-142" fill="none" stroke="#000" stroke-width="30.0" stroke-linecap="round" stroke-linejoin="round"/></g><g transform="translate(2221.9,189.1) scale(0.1185)"><path d="M146,-126 C130,-150 104,-153 86,-148 C48,-138 17,-100 17,-63 C17,-33 36,-17 60,-17 C100,-17 134,-70 146,-120" fill="none" stroke="#000" stroke-width="30.0" stroke-linecap="round" stroke-linejoin="round"/><path d="M148,-150 C146,-100 138,-38 160,-17" fill="none" stroke="#000" stroke-width="30.0" stroke-linecap="round" stroke-linejoin="round"/></g><g transform="translate(2247.9,189.1) scale(0.1185)"><path d="M21,-143 L12,-16" fill="none" stroke="#000" stroke-width="30.0" stroke-linecap="round" stroke-linejoin="round"/><path d="M16,-82 C35,-120 62,-142 120,-138" fill="none" stroke="#000" stroke-width="30.0" stroke-linecap="round" stroke-linejoin="round"/></g><g transform="translate(2271.2,189.1) scale(0.1185)"><path d="M128,-126 C110,-148 86,-151 66,-145 C36,-135 18,-100 18,-70 C18,-40 35,-22 58,-22 C90,-22 118,-70 128,-118" fill="none" stroke="#000" stroke-width="30.0" stroke-linecap="round" stroke-linejoin="round"/><path d="M131,-148 C130,-80 136,-20 124,18 C112,54 58,56 19,26" fill="none" stroke="#000" stroke-width="30.0" stroke-linecap="round" stroke-linejoin="round"/></g><g transform="translate(2297.0,189.1) scale(0.1185)"><path d="M20,-76 L126,-97 C124,-138 98,-150 74,-146 C40,-140 19,-105 19,-72 C19,-40 42,-17 76,-17 C100,-17 120,-27 130,-40" fill="none" stroke="#000" stroke-width="30.0" stroke-linecap="round" stroke-linejoin="round"/></g><g transform="translate(2322.9,189.1) scale(0.1185)"><path d="M58,-203 C55,-120 51,-80 54,-42 C56,-20 74,-14 93,-17" fill="none" stroke="#000" stroke-width="30.0" stroke-linecap="round" stroke-linejoin="round"/><path d="M14,-136 L96,-142" fill="none" stroke="#000" stroke-width="30.0" stroke-linecap="round" stroke-linejoin="round"/></g>
<path d="M2108.5,235.1 L2129,236.4 L2138,236.4 L2158,234.9 L2167,234.3 L2186,234.3" stroke="#e03131" stroke-width="5.8" stroke-dasharray="20.7 9" fill="none"/>
<g transform="translate(2220.5,249.3) scale(0.1185)"><path d="M92,-136 C76,-150 55,-153 40,-148 C20,-142 9,-120 22,-103 C36,-86 76,-82 89,-62 C100,-42 86,-22 66,-16 C46,-11 26,-18 16,-36" fill="none" stroke="#000" stroke-width="30.0" stroke-linecap="round" stroke-linejoin="round"/></g><g transform="translate(2239.8,249.3) scale(0.1185)"><path d="M20,-76 L126,-97 C124,-138 98,-150 74,-146 C40,-140 19,-105 19,-72 C19,-40 42,-17 76,-17 C100,-17 120,-27 130,-40" fill="none" stroke="#000" stroke-width="30.0" stroke-linecap="round" stroke-linejoin="round"/></g><g transform="translate(2265.4,249.3) scale(0.1185)"><path d="M58,-203 C55,-120 51,-80 54,-42 C56,-20 74,-14 93,-17" fill="none" stroke="#000" stroke-width="30.0" stroke-linecap="round" stroke-linejoin="round"/><path d="M14,-136 L96,-142" fill="none" stroke="#000" stroke-width="30.0" stroke-linecap="round" stroke-linejoin="round"/></g><g transform="translate(2288.9,249.3) scale(0.1185)"><ellipse cx="67" cy="-82" rx="50" ry="66" transform="rotate(14 67 -82)" fill="none" stroke="#000" stroke-width="30.0"/></g><g transform="translate(2312.2,249.3) scale(0.1185)"><path d="M92,-136 C76,-150 55,-153 40,-148 C20,-142 9,-120 22,-103 C36,-86 76,-82 89,-62 C100,-42 86,-22 66,-16 C46,-11 26,-18 16,-36" fill="none" stroke="#000" stroke-width="30.0" stroke-linecap="round" stroke-linejoin="round"/></g><g transform="translate(2331.1,249.3) scale(0.1185)"><path d="M146,-126 C130,-150 104,-153 86,-148 C48,-138 17,-100 17,-63 C17,-33 36,-17 60,-17 C100,-17 134,-70 146,-120" fill="none" stroke="#000" stroke-width="30.0" stroke-linecap="round" stroke-linejoin="round"/><path d="M148,-150 C146,-100 138,-38 160,-17" fill="none" stroke="#000" stroke-width="30.0" stroke-linecap="round" stroke-linejoin="round"/></g>
<path d="M2108.5,295.2 L2129,296.5 L2138,296.5 L2158,295.0 L2167,294.4 L2186,294.4" stroke="#2f9e44" stroke-width="5.8" stroke-dasharray="20.7 9" fill="none"/>
<g transform="translate(2220.7,309.4) scale(0.1185)"><path d="M17,-148 L72,-18 L138,-148" fill="none" stroke="#000" stroke-width="30.0" stroke-linecap="round" stroke-linejoin="round"/></g><g transform="translate(2245.0,309.4) scale(0.1185)"><path d="M20,-76 L126,-97 C124,-138 98,-150 74,-146 C40,-140 19,-105 19,-72 C19,-40 42,-17 76,-17 C100,-17 120,-27 130,-40" fill="none" stroke="#000" stroke-width="30.0" stroke-linecap="round" stroke-linejoin="round"/></g><g transform="translate(2268.8,309.4) scale(0.1185)"><path d="M21,-143 L12,-16" fill="none" stroke="#000" stroke-width="30.0" stroke-linecap="round" stroke-linejoin="round"/><path d="M16,-82 C35,-120 62,-142 120,-138" fill="none" stroke="#000" stroke-width="30.0" stroke-linecap="round" stroke-linejoin="round"/></g><g transform="translate(2291.8,309.4) scale(0.1185)"><path d="M92,-136 C76,-150 55,-153 40,-148 C20,-142 9,-120 22,-103 C36,-86 76,-82 89,-62 C100,-42 86,-22 66,-16 C46,-11 26,-18 16,-36" fill="none" stroke="#000" stroke-width="30.0" stroke-linecap="round" stroke-linejoin="round"/></g><g transform="translate(2308.6,309.4) scale(0.1185)"><path d="M30,-133 C28,-80 26,-32 40,-21 C50,-14 58,-14 64,-17" fill="none" stroke="#000" stroke-width="30.0" stroke-linecap="round" stroke-linejoin="round"/><circle cx="25" cy="-203" r="25.0" fill="#000"/></g><g transform="translate(2317.9,309.4) scale(0.1185)"><path d="M122,-132 C100,-150 70,-151 50,-136 C20,-112 9,-60 34,-31 C58,-5 100,-18 124,-42" fill="none" stroke="#000" stroke-width="30.0" stroke-linecap="round" stroke-linejoin="round"/></g><g transform="translate(2342.5,309.4) scale(0.1185)"><ellipse cx="67" cy="-82" rx="50" ry="66" transform="rotate(14 67 -82)" fill="none" stroke="#000" stroke-width="30.0"/></g><g transform="translate(2369.6,309.4) scale(0.1185)"><path d="M13,-237 L28,-249 C25,-150 27,-72 30,-42 C33,-22 40,-16 47,-17" fill="none" stroke="#000" stroke-width="30.0" stroke-linecap="round" stroke-linejoin="round"/></g><g transform="translate(2386.5,309.4) scale(0.1185)"><ellipse cx="67" cy="-82" rx="50" ry="66" transform="rotate(14 67 -82)" fill="none" stroke="#000" stroke-width="30.0"/></g><g transform="translate(2409.9,309.4) scale(0.1185)"><path d="M21,-143 L12,-16" fill="none" stroke="#000" stroke-width="30.0" stroke-linecap="round" stroke-linejoin="round"/><path d="M16,-82 C35,-120 62,-142 120,-138" fill="none" stroke="#000" stroke-width="30.0" stroke-linecap="round" stroke-linejoin="round"/></g>
<path d="M2108.5,355.3 L2129,356.6 L2138,356.6 L2158,355.1 L2167,354.5 L2186,354.5" stroke="#1c2fb4" stroke-width="5.8" stroke-dasharray="20.7 9" fill="none"/>
<g transform="translate(2220.7,369.5) scale(0.1185)"><path d="M17,-148 L72,-18 L138,-148" fill="none" stroke="#000" stroke-width="30.0" stroke-linecap="round" stroke-linejoin="round"/></g><g transform="translate(2241.9,369.5) scale(0.1185)"><path d="M30,-133 C28,-80 26,-32 40,-21 C50,-14 58,-14 64,-17" fill="none" stroke="#000" stroke-width="30.0" stroke-linecap="round" stroke-linejoin="round"/><circle cx="25" cy="-203" r="25.0" fill="#000"/></g><g transform="translate(2253.3,369.5) scale(0.1185)"><path d="M21,-143 L12,-16" fill="none" stroke="#000" stroke-width="30.0" stroke-linecap="round" stroke-linejoin="round"/><path d="M16,-82 C35,-120 62,-142 120,-138" fill="none" stroke="#000" stroke-width="30.0" stroke-linecap="round" stroke-linejoin="round"/></g><g transform="translate(2277.0,369.5) scale(0.1185)"><path d="M128,-126 C110,-148 86,-151 66,-145 C36,-135 18,-100 18,-70 C18,-40 35,-22 58,-22 C90,-22 118,-70 128,-118" fill="none" stroke="#000" stroke-width="30.0" stroke-linecap="round" stroke-linejoin="round"/><path d="M131,-148 C130,-80 136,-20 124,18 C112,54 58,56 19,26" fill="none" stroke="#000" stroke-width="30.0" stroke-linecap="round" stroke-linejoin="round"/></g><g transform="translate(2299.8,369.5) scale(0.1185)"><path d="M30,-133 C28,-80 26,-32 40,-21 C50,-14 58,-14 64,-17" fill="none" stroke="#000" stroke-width="30.0" stroke-linecap="round" stroke-linejoin="round"/><circle cx="25" cy="-203" r="25.0" fill="#000"/></g><g transform="translate(2310.7,369.5) scale(0.1185)"><path d="M20,-143 L13,-16" fill="none" stroke="#000" stroke-width="30.0" stroke-linecap="round" stroke-linejoin="round"/><path d="M16,-88 C35,-128 60,-147 80,-140 C104,-131 107,-90 111,-16" fill="none" stroke="#000" stroke-width="30.0" stroke-linecap="round" stroke-linejoin="round"/></g><g transform="translate(2330.1,369.5) scale(0.1185)"><path d="M30,-133 C28,-80 26,-32 40,-21 C50,-14 58,-14 64,-17" fill="none" stroke="#000" stroke-width="30.0" stroke-linecap="round" stroke-linejoin="round"/><circle cx="25" cy="-203" r="25.0" fill="#000"/></g><g transform="translate(2340.1,369.5) scale(0.1185)"><path d="M122,-132 C100,-150 70,-151 50,-136 C20,-112 9,-60 34,-31 C58,-5 100,-18 124,-42" fill="none" stroke="#000" stroke-width="30.0" stroke-linecap="round" stroke-linejoin="round"/></g><g transform="translate(2363.4,369.5) scale(0.1185)"><path d="M146,-126 C130,-150 104,-153 86,-148 C48,-138 17,-100 17,-63 C17,-33 36,-17 60,-17 C100,-17 134,-70 146,-120" fill="none" stroke="#000" stroke-width="30.0" stroke-linecap="round" stroke-linejoin="round"/><path d="M148,-150 C146,-100 138,-38 160,-17" fill="none" stroke="#000" stroke-width="30.0" stroke-linecap="round" stroke-linejoin="round"/></g>
</svg>
</body></html>
